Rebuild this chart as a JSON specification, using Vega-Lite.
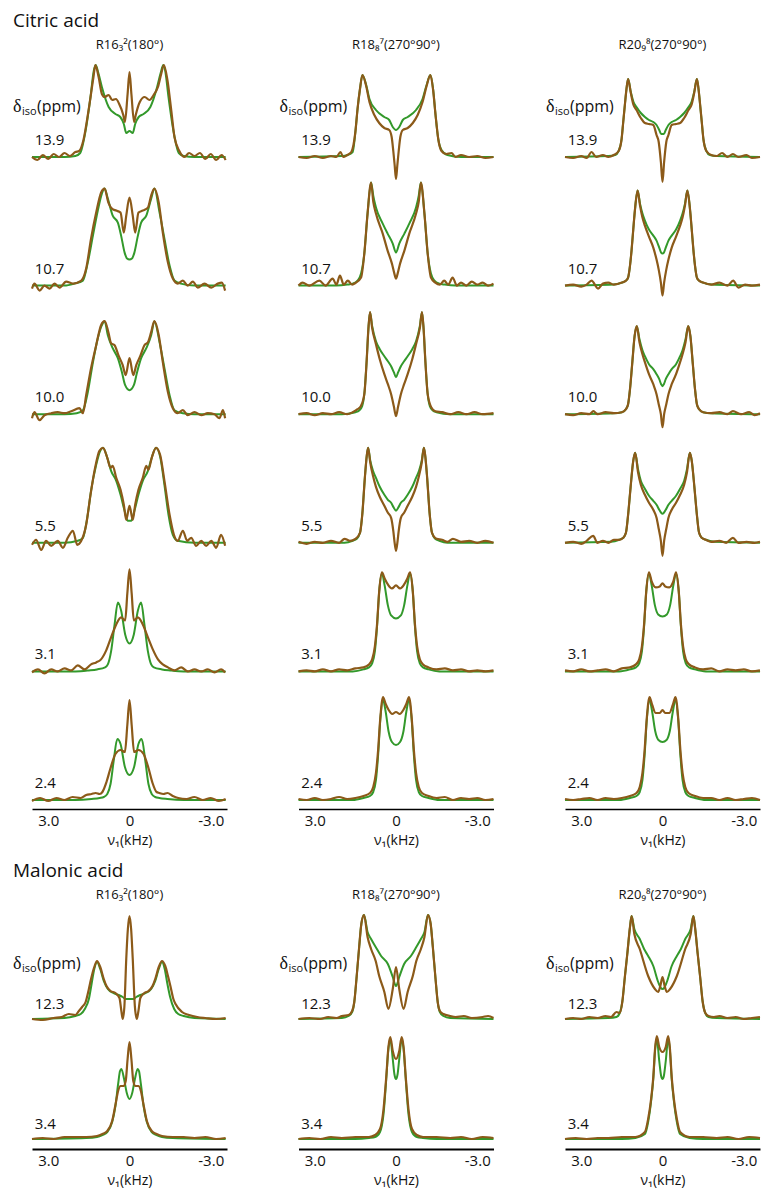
{
"$schema":"https://vega.github.io/schema/vega-lite/v6.json",
"background":"white",
"padding":{"left":13,"top":12,"right":0,"bottom":5},
"config":{"font":"Open Sans","view":{"stroke":null},"title":{"fontWeight":"normal","color":"#111"},"text":{"color":"#111","font":"Open Sans"}},
"datasets":{
"keys":[{"k":"a1g","c":"a","r":1,"s":"g"},{"k":"a1b","c":"a","r":1,"s":"b"},{"k":"a1l","c":"a","r":1,"s":"l"},{"k":"a2g","c":"a","r":2,"s":"g"},{"k":"a2b","c":"a","r":2,"s":"b"},{"k":"a2l","c":"a","r":2,"s":"l"},{"k":"a3g","c":"a","r":3,"s":"g"},{"k":"a3b","c":"a","r":3,"s":"b"},{"k":"a3l","c":"a","r":3,"s":"l"},{"k":"a4g","c":"a","r":4,"s":"g"},{"k":"a4b","c":"a","r":4,"s":"b"},{"k":"a4l","c":"a","r":4,"s":"l"},{"k":"a5g","c":"a","r":5,"s":"g"},{"k":"a5b","c":"a","r":5,"s":"b"},{"k":"a5l","c":"a","r":5,"s":"l"},{"k":"a6g","c":"a","r":6,"s":"g"},{"k":"a6b","c":"a","r":6,"s":"b"},{"k":"a6l","c":"a","r":6,"s":"l"},
{"k":"b1g","c":"b","r":1,"s":"g"},{"k":"b1b","c":"b","r":1,"s":"b"},{"k":"b1l","c":"b","r":1,"s":"l"},{"k":"b2g","c":"b","r":2,"s":"g"},{"k":"b2b","c":"b","r":2,"s":"b"},{"k":"b2l","c":"b","r":2,"s":"l"},{"k":"b3g","c":"b","r":3,"s":"g"},{"k":"b3b","c":"b","r":3,"s":"b"},{"k":"b3l","c":"b","r":3,"s":"l"},{"k":"b4g","c":"b","r":4,"s":"g"},{"k":"b4b","c":"b","r":4,"s":"b"},{"k":"b4l","c":"b","r":4,"s":"l"},{"k":"b5g","c":"b","r":5,"s":"g"},{"k":"b5b","c":"b","r":5,"s":"b"},{"k":"b5l","c":"b","r":5,"s":"l"},{"k":"b6g","c":"b","r":6,"s":"g"},{"k":"b6b","c":"b","r":6,"s":"b"},{"k":"b6l","c":"b","r":6,"s":"l"},
{"k":"c1g","c":"c","r":1,"s":"g"},{"k":"c1b","c":"c","r":1,"s":"b"},{"k":"c1l","c":"c","r":1,"s":"l"},{"k":"c2g","c":"c","r":2,"s":"g"},{"k":"c2b","c":"c","r":2,"s":"b"},{"k":"c2l","c":"c","r":2,"s":"l"},{"k":"c3g","c":"c","r":3,"s":"g"},{"k":"c3b","c":"c","r":3,"s":"b"},{"k":"c3l","c":"c","r":3,"s":"l"},{"k":"c4g","c":"c","r":4,"s":"g"},{"k":"c4b","c":"c","r":4,"s":"b"},{"k":"c4l","c":"c","r":4,"s":"l"},{"k":"c5g","c":"c","r":5,"s":"g"},{"k":"c5b","c":"c","r":5,"s":"b"},{"k":"c5l","c":"c","r":5,"s":"l"},{"k":"c6g","c":"c","r":6,"s":"g"},{"k":"c6b","c":"c","r":6,"s":"b"},{"k":"c6l","c":"c","r":6,"s":"l"}],
"cit":[
{"k":"a1l","lab":"13.9"},{"k":"a2l","lab":"10.7"},{"k":"a3l","lab":"10.0"},{"k":"a4l","lab":"5.5"},{"k":"a5l","lab":"3.1"},{"k":"a6l","lab":"2.4"},
{"k":"b1l","lab":"13.9"},{"k":"b2l","lab":"10.7"},{"k":"b3l","lab":"10.0"},{"k":"b4l","lab":"5.5"},{"k":"b5l","lab":"3.1"},{"k":"b6l","lab":"2.4"},
{"k":"c1l","lab":"13.9"},{"k":"c2l","lab":"10.7"},{"k":"c3l","lab":"10.0"},{"k":"c4l","lab":"5.5"},{"k":"c5l","lab":"3.1"},{"k":"c6l","lab":"2.4"},
{"k":"a1g","x":3.6,"y":0},{"k":"a1g","x":2.4,"y":0},{"k":"a1g","x":2,"y":0.01},{"k":"a1g","x":1.82,"y":0.04},{"k":"a1g","x":1.63,"y":0.25},{"k":"a1g","x":1.44,"y":0.6},{"k":"a1g","x":1.32,"y":0.86},{"k":"a1g","x":1.25,"y":0.92},{"k":"a1g","x":1.15,"y":0.84},{"k":"a1g","x":1.02,"y":0.7},{"k":"a1g","x":0.77,"y":0.5},{"k":"a1g","x":0.52,"y":0.43},{"k":"a1g","x":0.34,"y":0.4},{"k":"a1g","x":0.21,"y":0.33},{"k":"a1g","x":0.12,"y":0.24},{"k":"a1g","x":0,"y":0.26},{"k":"a1g","x":-0.12,"y":0.24},{"k":"a1g","x":-0.21,"y":0.33},{"k":"a1g","x":-0.34,"y":0.4},{"k":"a1g","x":-0.52,"y":0.43},{"k":"a1g","x":-0.77,"y":0.5},{"k":"a1g","x":-1.02,"y":0.7},{"k":"a1g","x":-1.15,"y":0.84},{"k":"a1g","x":-1.25,"y":0.92},{"k":"a1g","x":-1.32,"y":0.86},{"k":"a1g","x":-1.44,"y":0.6},{"k":"a1g","x":-1.63,"y":0.25},{"k":"a1g","x":-1.82,"y":0.04},{"k":"a1g","x":-2,"y":0.01},{"k":"a1g","x":-2.4,"y":0},{"k":"a1g","x":-3.55,"y":0},
{"k":"a1b","x":3.6,"y":0},{"k":"a1b","x":3.4,"y":-0.03},{"k":"a1b","x":3.2,"y":0.02},{"k":"a1b","x":3,"y":-0.02},{"k":"a1b","x":2.8,"y":0.03},{"k":"a1b","x":2.6,"y":0},{"k":"a1b","x":2.4,"y":0.04},{"k":"a1b","x":2.2,"y":0.01},{"k":"a1b","x":2,"y":0.05},{"k":"a1b","x":1.86,"y":0.06},{"k":"a1b","x":1.7,"y":0.17},{"k":"a1b","x":1.51,"y":0.47},{"k":"a1b","x":1.33,"y":0.8},{"k":"a1b","x":1.26,"y":0.92},{"k":"a1b","x":1.14,"y":0.8},{"k":"a1b","x":1.02,"y":0.63},{"k":"a1b","x":0.92,"y":0.6},{"k":"a1b","x":0.77,"y":0.62},{"k":"a1b","x":0.64,"y":0.57},{"k":"a1b","x":0.5,"y":0.58},{"k":"a1b","x":0.38,"y":0.53},{"k":"a1b","x":0.23,"y":0.42},{"k":"a1b","x":0.17,"y":0.35},{"k":"a1b","x":0.07,"y":0.63},{"k":"a1b","x":0,"y":0.85},{"k":"a1b","x":-0.07,"y":0.63},{"k":"a1b","x":-0.17,"y":0.35},{"k":"a1b","x":-0.23,"y":0.42},{"k":"a1b","x":-0.38,"y":0.55},{"k":"a1b","x":-0.56,"y":0.6},{"k":"a1b","x":-0.74,"y":0.57},{"k":"a1b","x":-0.89,"y":0.62},{"k":"a1b","x":-1.05,"y":0.7},{"k":"a1b","x":-1.17,"y":0.83},{"k":"a1b","x":-1.27,"y":0.92},{"k":"a1b","x":-1.4,"y":0.77},{"k":"a1b","x":-1.54,"y":0.47},{"k":"a1b","x":-1.66,"y":0.2},{"k":"a1b","x":-1.84,"y":0.06},{"k":"a1b","x":-2.03,"y":0},{"k":"a1b","x":-2.2,"y":0.04},{"k":"a1b","x":-2.4,"y":0.01},{"k":"a1b","x":-2.6,"y":0.04},{"k":"a1b","x":-2.8,"y":-0.02},{"k":"a1b","x":-3,"y":0.03},{"k":"a1b","x":-3.2,"y":-0.03},{"k":"a1b","x":-3.4,"y":0.02},{"k":"a1b","x":-3.55,"y":-0.03},
{"k":"a2g","x":3.6,"y":0},{"k":"a2g","x":2.4,"y":0},{"k":"a2g","x":2.03,"y":0.02},{"k":"a2g","x":1.72,"y":0.05},{"k":"a2g","x":1.54,"y":0.23},{"k":"a2g","x":1.35,"y":0.5},{"k":"a2g","x":1.17,"y":0.75},{"k":"a2g","x":1.02,"y":0.92},{"k":"a2g","x":0.92,"y":0.97},{"k":"a2g","x":0.8,"y":0.87},{"k":"a2g","x":0.62,"y":0.7},{"k":"a2g","x":0.43,"y":0.63},{"k":"a2g","x":0.31,"y":0.5},{"k":"a2g","x":0.18,"y":0.33},{"k":"a2g","x":0.09,"y":0.27},{"k":"a2g","x":0,"y":0.26},{"k":"a2g","x":-0.09,"y":0.27},{"k":"a2g","x":-0.18,"y":0.33},{"k":"a2g","x":-0.31,"y":0.5},{"k":"a2g","x":-0.43,"y":0.63},{"k":"a2g","x":-0.62,"y":0.7},{"k":"a2g","x":-0.8,"y":0.87},{"k":"a2g","x":-0.92,"y":0.97},{"k":"a2g","x":-1.11,"y":0.73},{"k":"a2g","x":-1.29,"y":0.47},{"k":"a2g","x":-1.48,"y":0.2},{"k":"a2g","x":-1.66,"y":0.05},{"k":"a2g","x":-1.9,"y":0.02},{"k":"a2g","x":-2.4,"y":0},{"k":"a2g","x":-3.55,"y":0},
{"k":"a2b","x":3.6,"y":-0.03},{"k":"a2b","x":3.51,"y":0.02},{"k":"a2b","x":3.32,"y":-0.05},{"k":"a2b","x":3.14,"y":0},{"k":"a2b","x":2.95,"y":-0.03},{"k":"a2b","x":2.77,"y":0.02},{"k":"a2b","x":2.58,"y":-0.02},{"k":"a2b","x":2.34,"y":0.04},{"k":"a2b","x":2.09,"y":0.02},{"k":"a2b","x":1.78,"y":0.05},{"k":"a2b","x":1.6,"y":0.17},{"k":"a2b","x":1.42,"y":0.47},{"k":"a2b","x":1.23,"y":0.73},{"k":"a2b","x":1.05,"y":0.93},{"k":"a2b","x":0.92,"y":0.97},{"k":"a2b","x":0.78,"y":0.83},{"k":"a2b","x":0.65,"y":0.77},{"k":"a2b","x":0.49,"y":0.75},{"k":"a2b","x":0.33,"y":0.73},{"k":"a2b","x":0.21,"y":0.53},{"k":"a2b","x":0.12,"y":0.7},{"k":"a2b","x":0,"y":0.88},{"k":"a2b","x":-0.12,"y":0.7},{"k":"a2b","x":-0.21,"y":0.53},{"k":"a2b","x":-0.33,"y":0.73},{"k":"a2b","x":-0.49,"y":0.75},{"k":"a2b","x":-0.68,"y":0.78},{"k":"a2b","x":-0.8,"y":0.9},{"k":"a2b","x":-0.92,"y":0.97},{"k":"a2b","x":-1.08,"y":0.83},{"k":"a2b","x":-1.23,"y":0.53},{"k":"a2b","x":-1.42,"y":0.23},{"k":"a2b","x":-1.6,"y":0.07},{"k":"a2b","x":-1.78,"y":0.02},{"k":"a2b","x":-1.97,"y":0.05},{"k":"a2b","x":-2.15,"y":0},{"k":"a2b","x":-2.34,"y":0.04},{"k":"a2b","x":-2.52,"y":-0.02},{"k":"a2b","x":-2.77,"y":0.02},{"k":"a2b","x":-3.02,"y":-0.02},{"k":"a2b","x":-3.26,"y":0.02},{"k":"a2b","x":-3.41,"y":0.03},{"k":"a2b","x":-3.53,"y":-0.05},
{"k":"a3g","x":3.6,"y":0},{"k":"a3g","x":2.4,"y":0},{"k":"a3g","x":1.95,"y":0.01},{"k":"a3g","x":1.72,"y":0.04},{"k":"a3g","x":1.54,"y":0.22},{"k":"a3g","x":1.35,"y":0.52},{"k":"a3g","x":1.17,"y":0.76},{"k":"a3g","x":1.02,"y":0.89},{"k":"a3g","x":0.92,"y":0.93},{"k":"a3g","x":0.8,"y":0.79},{"k":"a3g","x":0.62,"y":0.66},{"k":"a3g","x":0.43,"y":0.56},{"k":"a3g","x":0.28,"y":0.42},{"k":"a3g","x":0.16,"y":0.29},{"k":"a3g","x":0,"y":0.24},{"k":"a3g","x":-0.16,"y":0.29},{"k":"a3g","x":-0.28,"y":0.42},{"k":"a3g","x":-0.43,"y":0.56},{"k":"a3g","x":-0.62,"y":0.66},{"k":"a3g","x":-0.8,"y":0.79},{"k":"a3g","x":-0.92,"y":0.93},{"k":"a3g","x":-1.11,"y":0.72},{"k":"a3g","x":-1.29,"y":0.46},{"k":"a3g","x":-1.48,"y":0.19},{"k":"a3g","x":-1.66,"y":0.04},{"k":"a3g","x":-1.97,"y":0.01},{"k":"a3g","x":-2.4,"y":0},{"k":"a3g","x":-3.55,"y":0},
{"k":"a3b","x":3.6,"y":-0.04},{"k":"a3b","x":3.51,"y":0.02},{"k":"a3b","x":3.32,"y":-0.06},{"k":"a3b","x":3.14,"y":-0.01},{"k":"a3b","x":2.89,"y":0.01},{"k":"a3b","x":2.65,"y":0.02},{"k":"a3b","x":2.4,"y":0.01},{"k":"a3b","x":2.15,"y":0.03},{"k":"a3b","x":1.85,"y":0.06},{"k":"a3b","x":1.72,"y":0.01},{"k":"a3b","x":1.6,"y":0.19},{"k":"a3b","x":1.42,"y":0.46},{"k":"a3b","x":1.23,"y":0.69},{"k":"a3b","x":1.05,"y":0.89},{"k":"a3b","x":0.92,"y":0.93},{"k":"a3b","x":0.78,"y":0.82},{"k":"a3b","x":0.68,"y":0.71},{"k":"a3b","x":0.55,"y":0.69},{"k":"a3b","x":0.41,"y":0.59},{"k":"a3b","x":0.25,"y":0.49},{"k":"a3b","x":0.14,"y":0.39},{"k":"a3b","x":0,"y":0.56},{"k":"a3b","x":-0.14,"y":0.39},{"k":"a3b","x":-0.25,"y":0.49},{"k":"a3b","x":-0.41,"y":0.59},{"k":"a3b","x":-0.55,"y":0.69},{"k":"a3b","x":-0.68,"y":0.72},{"k":"a3b","x":-0.8,"y":0.82},{"k":"a3b","x":-0.92,"y":0.93},{"k":"a3b","x":-1.08,"y":0.79},{"k":"a3b","x":-1.23,"y":0.52},{"k":"a3b","x":-1.42,"y":0.22},{"k":"a3b","x":-1.6,"y":0.06},{"k":"a3b","x":-1.78,"y":0.01},{"k":"a3b","x":-1.97,"y":0.04},{"k":"a3b","x":-2.15,"y":-0.01},{"k":"a3b","x":-2.4,"y":0.02},{"k":"a3b","x":-2.65,"y":-0.01},{"k":"a3b","x":-2.89,"y":0.01},{"k":"a3b","x":-3.14,"y":0},{"k":"a3b","x":-3.32,"y":-0.04},{"k":"a3b","x":-3.45,"y":0.04},{"k":"a3b","x":-3.53,"y":-0.04},
{"k":"a4g","x":3.6,"y":0},{"k":"a4g","x":2.4,"y":0},{"k":"a4g","x":1.91,"y":0.02},{"k":"a4g","x":1.72,"y":0.05},{"k":"a4g","x":1.56,"y":0.25},{"k":"a4g","x":1.42,"y":0.52},{"k":"a4g","x":1.23,"y":0.78},{"k":"a4g","x":1.08,"y":0.92},{"k":"a4g","x":0.98,"y":0.95},{"k":"a4g","x":0.82,"y":0.85},{"k":"a4g","x":0.68,"y":0.72},{"k":"a4g","x":0.49,"y":0.62},{"k":"a4g","x":0.33,"y":0.48},{"k":"a4g","x":0.18,"y":0.32},{"k":"a4g","x":0.06,"y":0.22},{"k":"a4g","x":0,"y":0.22},{"k":"a4g","x":-0.06,"y":0.22},{"k":"a4g","x":-0.18,"y":0.32},{"k":"a4g","x":-0.33,"y":0.48},{"k":"a4g","x":-0.49,"y":0.62},{"k":"a4g","x":-0.68,"y":0.72},{"k":"a4g","x":-0.82,"y":0.85},{"k":"a4g","x":-0.98,"y":0.95},{"k":"a4g","x":-1.14,"y":0.85},{"k":"a4g","x":-1.29,"y":0.58},{"k":"a4g","x":-1.44,"y":0.28},{"k":"a4g","x":-1.6,"y":0.08},{"k":"a4g","x":-1.78,"y":0.02},{"k":"a4g","x":-2.4,"y":0},{"k":"a4g","x":-3.55,"y":0},
{"k":"a4b","x":3.6,"y":-0.02},{"k":"a4b","x":3.45,"y":0.03},{"k":"a4b","x":3.26,"y":-0.07},{"k":"a4b","x":3.08,"y":0.02},{"k":"a4b","x":2.89,"y":-0.03},{"k":"a4b","x":2.65,"y":0.02},{"k":"a4b","x":2.46,"y":-0.05},{"k":"a4b","x":2.28,"y":0.05},{"k":"a4b","x":2.09,"y":0.12},{"k":"a4b","x":1.93,"y":-0.02},{"k":"a4b","x":1.78,"y":0.02},{"k":"a4b","x":1.6,"y":0.18},{"k":"a4b","x":1.44,"y":0.48},{"k":"a4b","x":1.27,"y":0.75},{"k":"a4b","x":1.11,"y":0.92},{"k":"a4b","x":0.98,"y":0.95},{"k":"a4b","x":0.82,"y":0.85},{"k":"a4b","x":0.7,"y":0.75},{"k":"a4b","x":0.62,"y":0.77},{"k":"a4b","x":0.49,"y":0.65},{"k":"a4b","x":0.33,"y":0.53},{"k":"a4b","x":0.21,"y":0.38},{"k":"a4b","x":0.12,"y":0.23},{"k":"a4b","x":0,"y":0.37},{"k":"a4b","x":-0.12,"y":0.23},{"k":"a4b","x":-0.21,"y":0.38},{"k":"a4b","x":-0.33,"y":0.53},{"k":"a4b","x":-0.49,"y":0.65},{"k":"a4b","x":-0.62,"y":0.77},{"k":"a4b","x":-0.7,"y":0.73},{"k":"a4b","x":-0.82,"y":0.85},{"k":"a4b","x":-0.98,"y":0.95},{"k":"a4b","x":-1.13,"y":0.88},{"k":"a4b","x":-1.29,"y":0.62},{"k":"a4b","x":-1.48,"y":0.28},{"k":"a4b","x":-1.64,"y":0.08},{"k":"a4b","x":-1.78,"y":0.02},{"k":"a4b","x":-1.97,"y":0.12},{"k":"a4b","x":-2.13,"y":0.02},{"k":"a4b","x":-2.28,"y":0.05},{"k":"a4b","x":-2.46,"y":-0.03},{"k":"a4b","x":-2.65,"y":0.02},{"k":"a4b","x":-2.83,"y":-0.03},{"k":"a4b","x":-3.02,"y":0.02},{"k":"a4b","x":-3.2,"y":-0.05},{"k":"a4b","x":-3.38,"y":0.08},{"k":"a4b","x":-3.53,"y":-0.03},
{"k":"a5g","x":3.6,"y":0},{"k":"a5g","x":2,"y":0},{"k":"a5g","x":1.5,"y":0.01},{"k":"a5g","x":1.2,"y":0.02},{"k":"a5g","x":0.9,"y":0.04},{"k":"a5g","x":0.8,"y":0.07},{"k":"a5g","x":0.68,"y":0.2},{"k":"a5g","x":0.55,"y":0.47},{"k":"a5g","x":0.43,"y":0.69},{"k":"a5g","x":0.31,"y":0.61},{"k":"a5g","x":0.16,"y":0.37},{"k":"a5g","x":0,"y":0.28},{"k":"a5g","x":-0.16,"y":0.37},{"k":"a5g","x":-0.31,"y":0.61},{"k":"a5g","x":-0.43,"y":0.69},{"k":"a5g","x":-0.55,"y":0.47},{"k":"a5g","x":-0.68,"y":0.2},{"k":"a5g","x":-0.8,"y":0.07},{"k":"a5g","x":-0.9,"y":0.04},{"k":"a5g","x":-1.2,"y":0.02},{"k":"a5g","x":-1.5,"y":0.01},{"k":"a5g","x":-2,"y":0},{"k":"a5g","x":-3.55,"y":0},
{"k":"a5b","x":3.6,"y":-0.01},{"k":"a5b","x":3.38,"y":0.02},{"k":"a5b","x":3.14,"y":-0.02},{"k":"a5b","x":2.89,"y":0.02},{"k":"a5b","x":2.65,"y":0},{"k":"a5b","x":2.4,"y":0.03},{"k":"a5b","x":2.15,"y":0.01},{"k":"a5b","x":1.91,"y":0.06},{"k":"a5b","x":1.66,"y":0.02},{"k":"a5b","x":1.42,"y":0.07},{"k":"a5b","x":1.23,"y":0.09},{"k":"a5b","x":1.05,"y":0.12},{"k":"a5b","x":0.86,"y":0.21},{"k":"a5b","x":0.68,"y":0.34},{"k":"a5b","x":0.49,"y":0.47},{"k":"a5b","x":0.31,"y":0.54},{"k":"a5b","x":0.16,"y":0.51},{"k":"a5b","x":0.08,"y":0.78},{"k":"a5b","x":0,"y":1.02},{"k":"a5b","x":-0.08,"y":0.78},{"k":"a5b","x":-0.16,"y":0.51},{"k":"a5b","x":-0.31,"y":0.54},{"k":"a5b","x":-0.49,"y":0.47},{"k":"a5b","x":-0.68,"y":0.34},{"k":"a5b","x":-0.86,"y":0.22},{"k":"a5b","x":-1.05,"y":0.12},{"k":"a5b","x":-1.23,"y":0.07},{"k":"a5b","x":-1.42,"y":0.04},{"k":"a5b","x":-1.66,"y":0.01},{"k":"a5b","x":-1.91,"y":0.04},{"k":"a5b","x":-2.15,"y":0},{"k":"a5b","x":-2.4,"y":0.02},{"k":"a5b","x":-2.65,"y":0},{"k":"a5b","x":-2.89,"y":0.02},{"k":"a5b","x":-3.14,"y":-0.01},{"k":"a5b","x":-3.38,"y":0.02},{"k":"a5b","x":-3.53,"y":-0.01},
{"k":"a6g","x":3.6,"y":0},{"k":"a6g","x":2,"y":0},{"k":"a6g","x":1.4,"y":0.01},{"k":"a6g","x":1.1,"y":0.02},{"k":"a6g","x":0.95,"y":0.03},{"k":"a6g","x":0.82,"y":0.06},{"k":"a6g","x":0.7,"y":0.16},{"k":"a6g","x":0.58,"y":0.4},{"k":"a6g","x":0.45,"y":0.61},{"k":"a6g","x":0.33,"y":0.56},{"k":"a6g","x":0.17,"y":0.33},{"k":"a6g","x":0,"y":0.25},{"k":"a6g","x":-0.17,"y":0.33},{"k":"a6g","x":-0.33,"y":0.56},{"k":"a6g","x":-0.45,"y":0.61},{"k":"a6g","x":-0.58,"y":0.4},{"k":"a6g","x":-0.7,"y":0.16},{"k":"a6g","x":-0.82,"y":0.06},{"k":"a6g","x":-0.95,"y":0.03},{"k":"a6g","x":-1.1,"y":0.02},{"k":"a6g","x":-1.4,"y":0.01},{"k":"a6g","x":-2,"y":0},{"k":"a6g","x":-3.55,"y":0},
{"k":"a6b","x":3.6,"y":-0.01},{"k":"a6b","x":3.3,"y":0.02},{"k":"a6b","x":3,"y":-0.01},{"k":"a6b","x":2.7,"y":0.02},{"k":"a6b","x":2.4,"y":0},{"k":"a6b","x":2.1,"y":0.03},{"k":"a6b","x":1.8,"y":0.02},{"k":"a6b","x":1.6,"y":0.05},{"k":"a6b","x":1.4,"y":0.06},{"k":"a6b","x":1.25,"y":0.07},{"k":"a6b","x":1.1,"y":0.06},{"k":"a6b","x":1,"y":0.08},{"k":"a6b","x":0.85,"y":0.18},{"k":"a6b","x":0.7,"y":0.32},{"k":"a6b","x":0.52,"y":0.46},{"k":"a6b","x":0.33,"y":0.5},{"k":"a6b","x":0.17,"y":0.48},{"k":"a6b","x":0.08,"y":0.75},{"k":"a6b","x":0,"y":1},{"k":"a6b","x":-0.08,"y":0.75},{"k":"a6b","x":-0.17,"y":0.48},{"k":"a6b","x":-0.33,"y":0.5},{"k":"a6b","x":-0.52,"y":0.46},{"k":"a6b","x":-0.7,"y":0.32},{"k":"a6b","x":-0.85,"y":0.17},{"k":"a6b","x":-1,"y":0.08},{"k":"a6b","x":-1.1,"y":0.07},{"k":"a6b","x":-1.25,"y":0.06},{"k":"a6b","x":-1.4,"y":0.07},{"k":"a6b","x":-1.6,"y":0.04},{"k":"a6b","x":-1.8,"y":0.02},{"k":"a6b","x":-2.1,"y":0.01},{"k":"a6b","x":-2.4,"y":0.03},{"k":"a6b","x":-2.7,"y":0},{"k":"a6b","x":-3,"y":0.02},{"k":"a6b","x":-3.3,"y":-0.01},{"k":"a6b","x":-3.55,"y":0.01},
{"k":"b1g","x":3.6,"y":0},{"k":"b1g","x":2,"y":0.01},{"k":"b1g","x":1.78,"y":0.02},{"k":"b1g","x":1.6,"y":0.05},{"k":"b1g","x":1.5,"y":0.25},{"k":"b1g","x":1.42,"y":0.48},{"k":"b1g","x":1.33,"y":0.68},{"k":"b1g","x":1.24,"y":0.82},{"k":"b1g","x":1.11,"y":0.73},{"k":"b1g","x":0.98,"y":0.58},{"k":"b1g","x":0.74,"y":0.47},{"k":"b1g","x":0.43,"y":0.4},{"k":"b1g","x":0.25,"y":0.37},{"k":"b1g","x":0.12,"y":0.3},{"k":"b1g","x":0,"y":0.27},{"k":"b1g","x":-0.12,"y":0.3},{"k":"b1g","x":-0.25,"y":0.37},{"k":"b1g","x":-0.43,"y":0.4},{"k":"b1g","x":-0.74,"y":0.47},{"k":"b1g","x":-0.98,"y":0.58},{"k":"b1g","x":-1.13,"y":0.72},{"k":"b1g","x":-1.27,"y":0.82},{"k":"b1g","x":-1.37,"y":0.68},{"k":"b1g","x":-1.46,"y":0.42},{"k":"b1g","x":-1.56,"y":0.18},{"k":"b1g","x":-1.68,"y":0.07},{"k":"b1g","x":-1.9,"y":0.02},{"k":"b1g","x":-2.4,"y":0},{"k":"b1g","x":-3.6,"y":0},
{"k":"b1b","x":3.6,"y":0},{"k":"b1b","x":3.3,"y":-0.01},{"k":"b1b","x":3,"y":0.01},{"k":"b1b","x":2.7,"y":-0.01},{"k":"b1b","x":2.4,"y":0.01},{"k":"b1b","x":2.2,"y":0},{"k":"b1b","x":2.05,"y":0.05},{"k":"b1b","x":1.95,"y":0},{"k":"b1b","x":1.8,"y":0.02},{"k":"b1b","x":1.65,"y":0.05},{"k":"b1b","x":1.5,"y":0.25},{"k":"b1b","x":1.42,"y":0.48},{"k":"b1b","x":1.33,"y":0.68},{"k":"b1b","x":1.24,"y":0.82},{"k":"b1b","x":1.11,"y":0.72},{"k":"b1b","x":0.98,"y":0.55},{"k":"b1b","x":0.8,"y":0.42},{"k":"b1b","x":0.62,"y":0.34},{"k":"b1b","x":0.43,"y":0.29},{"k":"b1b","x":0.25,"y":0.27},{"k":"b1b","x":0.16,"y":0.2},{"k":"b1b","x":0.1,"y":0.06},{"k":"b1b","x":0.05,"y":-0.08},{"k":"b1b","x":0,"y":-0.22},{"k":"b1b","x":-0.05,"y":-0.08},{"k":"b1b","x":-0.1,"y":0.06},{"k":"b1b","x":-0.16,"y":0.2},{"k":"b1b","x":-0.25,"y":0.27},{"k":"b1b","x":-0.43,"y":0.29},{"k":"b1b","x":-0.62,"y":0.34},{"k":"b1b","x":-0.8,"y":0.42},{"k":"b1b","x":-0.98,"y":0.55},{"k":"b1b","x":-1.13,"y":0.71},{"k":"b1b","x":-1.27,"y":0.82},{"k":"b1b","x":-1.37,"y":0.67},{"k":"b1b","x":-1.46,"y":0.42},{"k":"b1b","x":-1.56,"y":0.18},{"k":"b1b","x":-1.68,"y":0.06},{"k":"b1b","x":-1.85,"y":0.03},{"k":"b1b","x":-2.05,"y":0.04},{"k":"b1b","x":-2.2,"y":0},{"k":"b1b","x":-2.4,"y":0.02},{"k":"b1b","x":-2.7,"y":0},{"k":"b1b","x":-3,"y":0.01},{"k":"b1b","x":-3.3,"y":-0.01},{"k":"b1b","x":-3.6,"y":0},
{"k":"b2g","x":3.6,"y":0},{"k":"b2g","x":2.2,"y":0},{"k":"b2g","x":1.8,"y":0.01},{"k":"b2g","x":1.6,"y":0.02},{"k":"b2g","x":1.42,"y":0.05},{"k":"b2g","x":1.29,"y":0.12},{"k":"b2g","x":1.17,"y":0.32},{"k":"b2g","x":1.05,"y":0.72},{"k":"b2g","x":0.92,"y":1.03},{"k":"b2g","x":0.84,"y":0.9},{"k":"b2g","x":0.74,"y":0.78},{"k":"b2g","x":0.49,"y":0.62},{"k":"b2g","x":0.31,"y":0.52},{"k":"b2g","x":0.12,"y":0.42},{"k":"b2g","x":0,"y":0.33},{"k":"b2g","x":-0.12,"y":0.42},{"k":"b2g","x":-0.31,"y":0.52},{"k":"b2g","x":-0.49,"y":0.62},{"k":"b2g","x":-0.74,"y":0.78},{"k":"b2g","x":-0.84,"y":0.9},{"k":"b2g","x":-0.92,"y":1.03},{"k":"b2g","x":-1.05,"y":0.72},{"k":"b2g","x":-1.17,"y":0.32},{"k":"b2g","x":-1.29,"y":0.12},{"k":"b2g","x":-1.42,"y":0.05},{"k":"b2g","x":-1.6,"y":0.02},{"k":"b2g","x":-1.8,"y":0.01},{"k":"b2g","x":-2.2,"y":0},{"k":"b2g","x":-3.6,"y":0},
{"k":"b2b","x":3.6,"y":0},{"k":"b2b","x":3.45,"y":0.03},{"k":"b2b","x":3.2,"y":0},{"k":"b2b","x":2.83,"y":0.05},{"k":"b2b","x":2.6,"y":0},{"k":"b2b","x":2.34,"y":0.07},{"k":"b2b","x":2.2,"y":0.01},{"k":"b2b","x":2.07,"y":0.1},{"k":"b2b","x":1.93,"y":0.01},{"k":"b2b","x":1.78,"y":0.05},{"k":"b2b","x":1.62,"y":0.01},{"k":"b2b","x":1.48,"y":0.03},{"k":"b2b","x":1.29,"y":0.08},{"k":"b2b","x":1.17,"y":0.32},{"k":"b2b","x":1.05,"y":0.72},{"k":"b2b","x":0.92,"y":1.03},{"k":"b2b","x":0.84,"y":0.84},{"k":"b2b","x":0.74,"y":0.72},{"k":"b2b","x":0.49,"y":0.52},{"k":"b2b","x":0.31,"y":0.35},{"k":"b2b","x":0.15,"y":0.22},{"k":"b2b","x":0.06,"y":0.12},{"k":"b2b","x":0,"y":0.07},{"k":"b2b","x":-0.06,"y":0.12},{"k":"b2b","x":-0.15,"y":0.22},{"k":"b2b","x":-0.31,"y":0.35},{"k":"b2b","x":-0.49,"y":0.52},{"k":"b2b","x":-0.74,"y":0.72},{"k":"b2b","x":-0.84,"y":0.84},{"k":"b2b","x":-0.92,"y":1.03},{"k":"b2b","x":-1.05,"y":0.72},{"k":"b2b","x":-1.17,"y":0.32},{"k":"b2b","x":-1.29,"y":0.08},{"k":"b2b","x":-1.45,"y":0.03},{"k":"b2b","x":-1.62,"y":0.01},{"k":"b2b","x":-1.78,"y":0.05},{"k":"b2b","x":-1.93,"y":0.01},{"k":"b2b","x":-2.09,"y":0.08},{"k":"b2b","x":-2.25,"y":0},{"k":"b2b","x":-2.4,"y":0.03},{"k":"b2b","x":-2.6,"y":0},{"k":"b2b","x":-2.8,"y":0.04},{"k":"b2b","x":-3,"y":0.01},{"k":"b2b","x":-3.2,"y":0.03},{"k":"b2b","x":-3.4,"y":0},{"k":"b2b","x":-3.6,"y":0.02},
{"k":"b3g","x":3.6,"y":0},{"k":"b3g","x":2,"y":0},{"k":"b3g","x":1.5,"y":0.02},{"k":"b3g","x":1.35,"y":0.04},{"k":"b3g","x":1.25,"y":0.08},{"k":"b3g","x":1.17,"y":0.2},{"k":"b3g","x":1.08,"y":0.55},{"k":"b3g","x":1.02,"y":0.85},{"k":"b3g","x":0.96,"y":1.02},{"k":"b3g","x":0.88,"y":0.88},{"k":"b3g","x":0.74,"y":0.73},{"k":"b3g","x":0.6,"y":0.65},{"k":"b3g","x":0.43,"y":0.58},{"k":"b3g","x":0.3,"y":0.53},{"k":"b3g","x":0.18,"y":0.48},{"k":"b3g","x":0.08,"y":0.42},{"k":"b3g","x":0,"y":0.37},{"k":"b3g","x":-0.08,"y":0.42},{"k":"b3g","x":-0.18,"y":0.48},{"k":"b3g","x":-0.3,"y":0.53},{"k":"b3g","x":-0.43,"y":0.58},{"k":"b3g","x":-0.6,"y":0.65},{"k":"b3g","x":-0.74,"y":0.73},{"k":"b3g","x":-0.88,"y":0.88},{"k":"b3g","x":-0.96,"y":1.02},{"k":"b3g","x":-1.02,"y":0.85},{"k":"b3g","x":-1.08,"y":0.55},{"k":"b3g","x":-1.17,"y":0.2},{"k":"b3g","x":-1.25,"y":0.08},{"k":"b3g","x":-1.35,"y":0.04},{"k":"b3g","x":-1.5,"y":0.02},{"k":"b3g","x":-2,"y":0},{"k":"b3g","x":-3.6,"y":0},
{"k":"b3b","x":3.6,"y":0},{"k":"b3b","x":3.3,"y":0.01},{"k":"b3b","x":3,"y":-0.01},{"k":"b3b","x":2.7,"y":0.01},{"k":"b3b","x":2.4,"y":0},{"k":"b3b","x":2.1,"y":0.02},{"k":"b3b","x":1.8,"y":0},{"k":"b3b","x":1.6,"y":0.02},{"k":"b3b","x":1.42,"y":0.05},{"k":"b3b","x":1.3,"y":0.08},{"k":"b3b","x":1.17,"y":0.2},{"k":"b3b","x":1.08,"y":0.55},{"k":"b3b","x":1.02,"y":0.85},{"k":"b3b","x":0.96,"y":1.02},{"k":"b3b","x":0.88,"y":0.86},{"k":"b3b","x":0.74,"y":0.7},{"k":"b3b","x":0.6,"y":0.55},{"k":"b3b","x":0.43,"y":0.4},{"k":"b3b","x":0.3,"y":0.3},{"k":"b3b","x":0.18,"y":0.2},{"k":"b3b","x":0.08,"y":0.08},{"k":"b3b","x":0,"y":-0.02},{"k":"b3b","x":-0.08,"y":0.08},{"k":"b3b","x":-0.18,"y":0.2},{"k":"b3b","x":-0.3,"y":0.3},{"k":"b3b","x":-0.43,"y":0.4},{"k":"b3b","x":-0.6,"y":0.55},{"k":"b3b","x":-0.74,"y":0.7},{"k":"b3b","x":-0.88,"y":0.86},{"k":"b3b","x":-0.96,"y":1.02},{"k":"b3b","x":-1.02,"y":0.85},{"k":"b3b","x":-1.08,"y":0.55},{"k":"b3b","x":-1.17,"y":0.2},{"k":"b3b","x":-1.3,"y":0.07},{"k":"b3b","x":-1.45,"y":0.03},{"k":"b3b","x":-1.7,"y":0.02},{"k":"b3b","x":-2,"y":0},{"k":"b3b","x":-2.3,"y":0.02},{"k":"b3b","x":-2.6,"y":0},{"k":"b3b","x":-2.9,"y":0.02},{"k":"b3b","x":-3.2,"y":0},{"k":"b3b","x":-3.6,"y":0.01},
{"k":"b4g","x":3.6,"y":0},{"k":"b4g","x":1.9,"y":0},{"k":"b4g","x":1.6,"y":0.02},{"k":"b4g","x":1.45,"y":0.04},{"k":"b4g","x":1.33,"y":0.1},{"k":"b4g","x":1.24,"y":0.3},{"k":"b4g","x":1.15,"y":0.65},{"k":"b4g","x":1.08,"y":0.87},{"k":"b4g","x":1.03,"y":0.95},{"k":"b4g","x":0.95,"y":0.82},{"k":"b4g","x":0.85,"y":0.72},{"k":"b4g","x":0.74,"y":0.65},{"k":"b4g","x":0.6,"y":0.56},{"k":"b4g","x":0.43,"y":0.48},{"k":"b4g","x":0.3,"y":0.43},{"k":"b4g","x":0.18,"y":0.4},{"k":"b4g","x":0.08,"y":0.35},{"k":"b4g","x":0,"y":0.32},{"k":"b4g","x":-0.08,"y":0.35},{"k":"b4g","x":-0.18,"y":0.4},{"k":"b4g","x":-0.3,"y":0.43},{"k":"b4g","x":-0.43,"y":0.48},{"k":"b4g","x":-0.6,"y":0.56},{"k":"b4g","x":-0.74,"y":0.65},{"k":"b4g","x":-0.85,"y":0.72},{"k":"b4g","x":-0.95,"y":0.82},{"k":"b4g","x":-1.03,"y":0.95},{"k":"b4g","x":-1.08,"y":0.87},{"k":"b4g","x":-1.15,"y":0.65},{"k":"b4g","x":-1.24,"y":0.3},{"k":"b4g","x":-1.33,"y":0.1},{"k":"b4g","x":-1.45,"y":0.04},{"k":"b4g","x":-1.6,"y":0.02},{"k":"b4g","x":-1.9,"y":0},{"k":"b4g","x":-3.6,"y":0},
{"k":"b4b","x":3.6,"y":0.01},{"k":"b4b","x":3.3,"y":-0.01},{"k":"b4b","x":3,"y":0.01},{"k":"b4b","x":2.7,"y":0},{"k":"b4b","x":2.4,"y":0.02},{"k":"b4b","x":2.1,"y":0},{"k":"b4b","x":1.9,"y":0.04},{"k":"b4b","x":1.7,"y":0.02},{"k":"b4b","x":1.5,"y":0.04},{"k":"b4b","x":1.33,"y":0.1},{"k":"b4b","x":1.24,"y":0.3},{"k":"b4b","x":1.15,"y":0.65},{"k":"b4b","x":1.08,"y":0.87},{"k":"b4b","x":1.03,"y":0.95},{"k":"b4b","x":0.95,"y":0.8},{"k":"b4b","x":0.85,"y":0.67},{"k":"b4b","x":0.74,"y":0.56},{"k":"b4b","x":0.6,"y":0.46},{"k":"b4b","x":0.43,"y":0.37},{"k":"b4b","x":0.3,"y":0.3},{"k":"b4b","x":0.18,"y":0.25},{"k":"b4b","x":0.1,"y":0.12},{"k":"b4b","x":0.05,"y":0},{"k":"b4b","x":0,"y":-0.08},{"k":"b4b","x":-0.05,"y":0},{"k":"b4b","x":-0.1,"y":0.12},{"k":"b4b","x":-0.18,"y":0.25},{"k":"b4b","x":-0.3,"y":0.3},{"k":"b4b","x":-0.43,"y":0.37},{"k":"b4b","x":-0.6,"y":0.46},{"k":"b4b","x":-0.74,"y":0.56},{"k":"b4b","x":-0.85,"y":0.67},{"k":"b4b","x":-0.95,"y":0.8},{"k":"b4b","x":-1.03,"y":0.95},{"k":"b4b","x":-1.08,"y":0.87},{"k":"b4b","x":-1.15,"y":0.65},{"k":"b4b","x":-1.24,"y":0.3},{"k":"b4b","x":-1.33,"y":0.1},{"k":"b4b","x":-1.5,"y":0.04},{"k":"b4b","x":-1.7,"y":0.03},{"k":"b4b","x":-1.9,"y":0.01},{"k":"b4b","x":-2.1,"y":0.04},{"k":"b4b","x":-2.4,"y":0.01},{"k":"b4b","x":-2.7,"y":0.02},{"k":"b4b","x":-3,"y":0},{"k":"b4b","x":-3.3,"y":0.02},{"k":"b4b","x":-3.6,"y":0},
{"k":"b5g","x":3.6,"y":0},{"k":"b5g","x":1.6,"y":0},{"k":"b5g","x":1.2,"y":0.02},{"k":"b5g","x":1,"y":0.04},{"k":"b5g","x":0.88,"y":0.08},{"k":"b5g","x":0.78,"y":0.2},{"k":"b5g","x":0.7,"y":0.45},{"k":"b5g","x":0.62,"y":0.8},{"k":"b5g","x":0.52,"y":0.98},{"k":"b5g","x":0.42,"y":0.86},{"k":"b5g","x":0.3,"y":0.66},{"k":"b5g","x":0.18,"y":0.56},{"k":"b5g","x":0,"y":0.53},{"k":"b5g","x":-0.18,"y":0.56},{"k":"b5g","x":-0.3,"y":0.66},{"k":"b5g","x":-0.42,"y":0.86},{"k":"b5g","x":-0.52,"y":0.98},{"k":"b5g","x":-0.62,"y":0.8},{"k":"b5g","x":-0.7,"y":0.45},{"k":"b5g","x":-0.78,"y":0.2},{"k":"b5g","x":-0.88,"y":0.08},{"k":"b5g","x":-1,"y":0.04},{"k":"b5g","x":-1.2,"y":0.02},{"k":"b5g","x":-1.6,"y":0},{"k":"b5g","x":-3.6,"y":0},
{"k":"b5b","x":3.6,"y":0},{"k":"b5b","x":3.3,"y":0.01},{"k":"b5b","x":3,"y":0},{"k":"b5b","x":2.7,"y":0.02},{"k":"b5b","x":2.4,"y":0},{"k":"b5b","x":2.1,"y":0.02},{"k":"b5b","x":1.8,"y":0.01},{"k":"b5b","x":1.5,"y":0.03},{"k":"b5b","x":1.2,"y":0.04},{"k":"b5b","x":1,"y":0.07},{"k":"b5b","x":0.88,"y":0.12},{"k":"b5b","x":0.78,"y":0.25},{"k":"b5b","x":0.7,"y":0.47},{"k":"b5b","x":0.62,"y":0.8},{"k":"b5b","x":0.52,"y":0.99},{"k":"b5b","x":0.42,"y":0.93},{"k":"b5b","x":0.3,"y":0.87},{"k":"b5b","x":0.15,"y":0.83},{"k":"b5b","x":0,"y":0.86},{"k":"b5b","x":-0.15,"y":0.83},{"k":"b5b","x":-0.3,"y":0.87},{"k":"b5b","x":-0.42,"y":0.93},{"k":"b5b","x":-0.52,"y":0.99},{"k":"b5b","x":-0.62,"y":0.8},{"k":"b5b","x":-0.7,"y":0.47},{"k":"b5b","x":-0.78,"y":0.25},{"k":"b5b","x":-0.88,"y":0.12},{"k":"b5b","x":-1,"y":0.07},{"k":"b5b","x":-1.2,"y":0.04},{"k":"b5b","x":-1.5,"y":0.02},{"k":"b5b","x":-1.8,"y":0.03},{"k":"b5b","x":-2.1,"y":0.01},{"k":"b5b","x":-2.4,"y":0.02},{"k":"b5b","x":-2.7,"y":0},{"k":"b5b","x":-3,"y":0.01},{"k":"b5b","x":-3.3,"y":0},{"k":"b5b","x":-3.6,"y":0.01},
{"k":"b6g","x":3.6,"y":0},{"k":"b6g","x":1.6,"y":0},{"k":"b6g","x":1.2,"y":0.02},{"k":"b6g","x":0.96,"y":0.04},{"k":"b6g","x":0.84,"y":0.08},{"k":"b6g","x":0.74,"y":0.2},{"k":"b6g","x":0.66,"y":0.45},{"k":"b6g","x":0.58,"y":0.8},{"k":"b6g","x":0.48,"y":1},{"k":"b6g","x":0.38,"y":0.88},{"k":"b6g","x":0.27,"y":0.68},{"k":"b6g","x":0.15,"y":0.58},{"k":"b6g","x":0,"y":0.55},{"k":"b6g","x":-0.15,"y":0.58},{"k":"b6g","x":-0.27,"y":0.68},{"k":"b6g","x":-0.38,"y":0.88},{"k":"b6g","x":-0.48,"y":1},{"k":"b6g","x":-0.58,"y":0.8},{"k":"b6g","x":-0.66,"y":0.45},{"k":"b6g","x":-0.74,"y":0.2},{"k":"b6g","x":-0.84,"y":0.08},{"k":"b6g","x":-0.96,"y":0.04},{"k":"b6g","x":-1.2,"y":0.02},{"k":"b6g","x":-1.6,"y":0},{"k":"b6g","x":-3.6,"y":0},
{"k":"b6b","x":3.6,"y":0.01},{"k":"b6b","x":3.3,"y":0},{"k":"b6b","x":3,"y":0.02},{"k":"b6b","x":2.7,"y":0},{"k":"b6b","x":2.4,"y":0.01},{"k":"b6b","x":2.1,"y":0.03},{"k":"b6b","x":1.8,"y":0.01},{"k":"b6b","x":1.5,"y":0.02},{"k":"b6b","x":1.2,"y":0.04},{"k":"b6b","x":0.96,"y":0.07},{"k":"b6b","x":0.84,"y":0.13},{"k":"b6b","x":0.74,"y":0.27},{"k":"b6b","x":0.66,"y":0.5},{"k":"b6b","x":0.58,"y":0.82},{"k":"b6b","x":0.48,"y":1.03},{"k":"b6b","x":0.38,"y":0.96},{"k":"b6b","x":0.27,"y":0.9},{"k":"b6b","x":0.14,"y":0.86},{"k":"b6b","x":0,"y":0.88},{"k":"b6b","x":-0.14,"y":0.86},{"k":"b6b","x":-0.27,"y":0.9},{"k":"b6b","x":-0.38,"y":0.96},{"k":"b6b","x":-0.48,"y":1.03},{"k":"b6b","x":-0.58,"y":0.82},{"k":"b6b","x":-0.66,"y":0.5},{"k":"b6b","x":-0.74,"y":0.27},{"k":"b6b","x":-0.84,"y":0.13},{"k":"b6b","x":-0.96,"y":0.07},{"k":"b6b","x":-1.2,"y":0.04},{"k":"b6b","x":-1.5,"y":0.02},{"k":"b6b","x":-1.8,"y":0.03},{"k":"b6b","x":-2.1,"y":0},{"k":"b6b","x":-2.4,"y":0.02},{"k":"b6b","x":-2.7,"y":0.01},{"k":"b6b","x":-3,"y":0.02},{"k":"b6b","x":-3.3,"y":0},{"k":"b6b","x":-3.6,"y":0.01},
{"k":"c1g","x":3.6,"y":0},{"k":"c1g","x":2,"y":0.01},{"k":"c1g","x":1.75,"y":0.02},{"k":"c1g","x":1.62,"y":0.06},{"k":"c1g","x":1.51,"y":0.18},{"k":"c1g","x":1.45,"y":0.35},{"k":"c1g","x":1.39,"y":0.52},{"k":"c1g","x":1.33,"y":0.68},{"k":"c1g","x":1.27,"y":0.78},{"k":"c1g","x":1.17,"y":0.65},{"k":"c1g","x":1.07,"y":0.55},{"k":"c1g","x":0.96,"y":0.5},{"k":"c1g","x":0.8,"y":0.44},{"k":"c1g","x":0.65,"y":0.4},{"k":"c1g","x":0.5,"y":0.37},{"k":"c1g","x":0.34,"y":0.35},{"k":"c1g","x":0.22,"y":0.32},{"k":"c1g","x":0.12,"y":0.27},{"k":"c1g","x":0.05,"y":0.23},{"k":"c1g","x":0,"y":0.23},{"k":"c1g","x":-0.05,"y":0.23},{"k":"c1g","x":-0.12,"y":0.27},{"k":"c1g","x":-0.22,"y":0.32},{"k":"c1g","x":-0.34,"y":0.35},{"k":"c1g","x":-0.5,"y":0.37},{"k":"c1g","x":-0.65,"y":0.4},{"k":"c1g","x":-0.8,"y":0.44},{"k":"c1g","x":-0.96,"y":0.5},{"k":"c1g","x":-1.07,"y":0.55},{"k":"c1g","x":-1.17,"y":0.65},{"k":"c1g","x":-1.27,"y":0.78},{"k":"c1g","x":-1.33,"y":0.68},{"k":"c1g","x":-1.39,"y":0.52},{"k":"c1g","x":-1.45,"y":0.35},{"k":"c1g","x":-1.51,"y":0.18},{"k":"c1g","x":-1.62,"y":0.06},{"k":"c1g","x":-1.75,"y":0.02},{"k":"c1g","x":-2,"y":0.01},{"k":"c1g","x":-3.6,"y":0},
{"k":"c1b","x":3.6,"y":0},{"k":"c1b","x":3.3,"y":-0.01},{"k":"c1b","x":3,"y":0.01},{"k":"c1b","x":2.8,"y":-0.01},{"k":"c1b","x":2.62,"y":0.05},{"k":"c1b","x":2.45,"y":0},{"k":"c1b","x":2.2,"y":0.02},{"k":"c1b","x":2,"y":0},{"k":"c1b","x":1.8,"y":0.02},{"k":"c1b","x":1.62,"y":0.06},{"k":"c1b","x":1.51,"y":0.18},{"k":"c1b","x":1.45,"y":0.35},{"k":"c1b","x":1.39,"y":0.52},{"k":"c1b","x":1.33,"y":0.68},{"k":"c1b","x":1.27,"y":0.78},{"k":"c1b","x":1.17,"y":0.64},{"k":"c1b","x":1.07,"y":0.52},{"k":"c1b","x":0.96,"y":0.47},{"k":"c1b","x":0.8,"y":0.39},{"k":"c1b","x":0.65,"y":0.34},{"k":"c1b","x":0.5,"y":0.33},{"k":"c1b","x":0.34,"y":0.32},{"k":"c1b","x":0.22,"y":0.22},{"k":"c1b","x":0.14,"y":0.15},{"k":"c1b","x":0.06,"y":-0.05},{"k":"c1b","x":0,"y":-0.25},{"k":"c1b","x":-0.06,"y":-0.05},{"k":"c1b","x":-0.14,"y":0.15},{"k":"c1b","x":-0.22,"y":0.22},{"k":"c1b","x":-0.34,"y":0.32},{"k":"c1b","x":-0.5,"y":0.33},{"k":"c1b","x":-0.65,"y":0.34},{"k":"c1b","x":-0.8,"y":0.39},{"k":"c1b","x":-0.96,"y":0.47},{"k":"c1b","x":-1.07,"y":0.52},{"k":"c1b","x":-1.17,"y":0.64},{"k":"c1b","x":-1.27,"y":0.78},{"k":"c1b","x":-1.33,"y":0.68},{"k":"c1b","x":-1.39,"y":0.52},{"k":"c1b","x":-1.45,"y":0.35},{"k":"c1b","x":-1.51,"y":0.18},{"k":"c1b","x":-1.62,"y":0.06},{"k":"c1b","x":-1.8,"y":0.02},{"k":"c1b","x":-2,"y":0.01},{"k":"c1b","x":-2.2,"y":0.04},{"k":"c1b","x":-2.4,"y":0},{"k":"c1b","x":-2.6,"y":0.03},{"k":"c1b","x":-2.8,"y":0},{"k":"c1b","x":-3.1,"y":0.02},{"k":"c1b","x":-3.3,"y":-0.01},{"k":"c1b","x":-3.6,"y":0},
{"k":"c2g","x":3.6,"y":0},{"k":"c2g","x":1.8,"y":0.01},{"k":"c2g","x":1.5,"y":0.03},{"k":"c2g","x":1.35,"y":0.05},{"k":"c2g","x":1.27,"y":0.08},{"k":"c2g","x":1.2,"y":0.2},{"k":"c2g","x":1.14,"y":0.36},{"k":"c2g","x":1.08,"y":0.56},{"k":"c2g","x":1.02,"y":0.75},{"k":"c2g","x":0.92,"y":0.95},{"k":"c2g","x":0.83,"y":0.82},{"k":"c2g","x":0.74,"y":0.72},{"k":"c2g","x":0.65,"y":0.65},{"k":"c2g","x":0.5,"y":0.56},{"k":"c2g","x":0.34,"y":0.5},{"k":"c2g","x":0.22,"y":0.45},{"k":"c2g","x":0.12,"y":0.38},{"k":"c2g","x":0.05,"y":0.33},{"k":"c2g","x":0,"y":0.32},{"k":"c2g","x":-0.05,"y":0.33},{"k":"c2g","x":-0.12,"y":0.38},{"k":"c2g","x":-0.22,"y":0.45},{"k":"c2g","x":-0.34,"y":0.5},{"k":"c2g","x":-0.5,"y":0.56},{"k":"c2g","x":-0.65,"y":0.65},{"k":"c2g","x":-0.74,"y":0.72},{"k":"c2g","x":-0.83,"y":0.82},{"k":"c2g","x":-0.92,"y":0.95},{"k":"c2g","x":-1.02,"y":0.75},{"k":"c2g","x":-1.08,"y":0.56},{"k":"c2g","x":-1.14,"y":0.36},{"k":"c2g","x":-1.2,"y":0.2},{"k":"c2g","x":-1.27,"y":0.08},{"k":"c2g","x":-1.35,"y":0.05},{"k":"c2g","x":-1.5,"y":0.03},{"k":"c2g","x":-1.8,"y":0.01},{"k":"c2g","x":-3.6,"y":0},
{"k":"c2b","x":3.6,"y":0},{"k":"c2b","x":3.3,"y":0.01},{"k":"c2b","x":3,"y":-0.01},{"k":"c2b","x":2.8,"y":0.01},{"k":"c2b","x":2.62,"y":0.05},{"k":"c2b","x":2.38,"y":-0.03},{"k":"c2b","x":2.2,"y":0.02},{"k":"c2b","x":2,"y":0.03},{"k":"c2b","x":1.8,"y":0.01},{"k":"c2b","x":1.5,"y":0.03},{"k":"c2b","x":1.35,"y":0.05},{"k":"c2b","x":1.27,"y":0.08},{"k":"c2b","x":1.2,"y":0.2},{"k":"c2b","x":1.14,"y":0.36},{"k":"c2b","x":1.08,"y":0.56},{"k":"c2b","x":1.02,"y":0.75},{"k":"c2b","x":0.92,"y":0.95},{"k":"c2b","x":0.83,"y":0.8},{"k":"c2b","x":0.74,"y":0.68},{"k":"c2b","x":0.65,"y":0.6},{"k":"c2b","x":0.5,"y":0.49},{"k":"c2b","x":0.34,"y":0.38},{"k":"c2b","x":0.22,"y":0.26},{"k":"c2b","x":0.14,"y":0.16},{"k":"c2b","x":0.06,"y":0.03},{"k":"c2b","x":0,"y":-0.1},{"k":"c2b","x":-0.06,"y":0.03},{"k":"c2b","x":-0.14,"y":0.16},{"k":"c2b","x":-0.22,"y":0.26},{"k":"c2b","x":-0.34,"y":0.38},{"k":"c2b","x":-0.5,"y":0.49},{"k":"c2b","x":-0.65,"y":0.6},{"k":"c2b","x":-0.74,"y":0.68},{"k":"c2b","x":-0.83,"y":0.8},{"k":"c2b","x":-0.92,"y":0.95},{"k":"c2b","x":-1.02,"y":0.75},{"k":"c2b","x":-1.08,"y":0.56},{"k":"c2b","x":-1.14,"y":0.36},{"k":"c2b","x":-1.2,"y":0.2},{"k":"c2b","x":-1.27,"y":0.08},{"k":"c2b","x":-1.35,"y":0.05},{"k":"c2b","x":-1.5,"y":0.03},{"k":"c2b","x":-1.8,"y":0.01},{"k":"c2b","x":-2.1,"y":0.03},{"k":"c2b","x":-2.4,"y":0},{"k":"c2b","x":-2.61,"y":0.05},{"k":"c2b","x":-2.8,"y":-0.02},{"k":"c2b","x":-3.05,"y":0.01},{"k":"c2b","x":-3.3,"y":0},{"k":"c2b","x":-3.6,"y":0.01},
{"k":"c3g","x":3.6,"y":0},{"k":"c3g","x":1.8,"y":0.01},{"k":"c3g","x":1.5,"y":0.02},{"k":"c3g","x":1.35,"y":0.05},{"k":"c3g","x":1.27,"y":0.1},{"k":"c3g","x":1.2,"y":0.25},{"k":"c3g","x":1.12,"y":0.5},{"k":"c3g","x":1.03,"y":0.78},{"k":"c3g","x":0.95,"y":0.88},{"k":"c3g","x":0.85,"y":0.75},{"k":"c3g","x":0.74,"y":0.64},{"k":"c3g","x":0.65,"y":0.58},{"k":"c3g","x":0.5,"y":0.5},{"k":"c3g","x":0.34,"y":0.45},{"k":"c3g","x":0.22,"y":0.4},{"k":"c3g","x":0.12,"y":0.35},{"k":"c3g","x":0.05,"y":0.3},{"k":"c3g","x":0,"y":0.28},{"k":"c3g","x":-0.05,"y":0.3},{"k":"c3g","x":-0.12,"y":0.35},{"k":"c3g","x":-0.22,"y":0.4},{"k":"c3g","x":-0.34,"y":0.45},{"k":"c3g","x":-0.5,"y":0.5},{"k":"c3g","x":-0.65,"y":0.58},{"k":"c3g","x":-0.74,"y":0.64},{"k":"c3g","x":-0.85,"y":0.75},{"k":"c3g","x":-0.95,"y":0.88},{"k":"c3g","x":-1.03,"y":0.78},{"k":"c3g","x":-1.12,"y":0.5},{"k":"c3g","x":-1.2,"y":0.25},{"k":"c3g","x":-1.27,"y":0.1},{"k":"c3g","x":-1.35,"y":0.05},{"k":"c3g","x":-1.5,"y":0.02},{"k":"c3g","x":-1.8,"y":0.01},{"k":"c3g","x":-3.6,"y":0},
{"k":"c3b","x":3.6,"y":0},{"k":"c3b","x":3.3,"y":-0.01},{"k":"c3b","x":3,"y":0.01},{"k":"c3b","x":2.7,"y":0},{"k":"c3b","x":2.55,"y":0.03},{"k":"c3b","x":2.4,"y":0},{"k":"c3b","x":2.1,"y":0.02},{"k":"c3b","x":1.8,"y":0.01},{"k":"c3b","x":1.5,"y":0.02},{"k":"c3b","x":1.35,"y":0.05},{"k":"c3b","x":1.27,"y":0.1},{"k":"c3b","x":1.2,"y":0.25},{"k":"c3b","x":1.12,"y":0.5},{"k":"c3b","x":1.03,"y":0.78},{"k":"c3b","x":0.95,"y":0.88},{"k":"c3b","x":0.85,"y":0.72},{"k":"c3b","x":0.74,"y":0.6},{"k":"c3b","x":0.65,"y":0.52},{"k":"c3b","x":0.5,"y":0.4},{"k":"c3b","x":0.34,"y":0.3},{"k":"c3b","x":0.22,"y":0.2},{"k":"c3b","x":0.14,"y":0.1},{"k":"c3b","x":0.06,"y":0},{"k":"c3b","x":0,"y":-0.13},{"k":"c3b","x":-0.06,"y":0},{"k":"c3b","x":-0.14,"y":0.1},{"k":"c3b","x":-0.22,"y":0.2},{"k":"c3b","x":-0.34,"y":0.3},{"k":"c3b","x":-0.5,"y":0.4},{"k":"c3b","x":-0.65,"y":0.52},{"k":"c3b","x":-0.74,"y":0.6},{"k":"c3b","x":-0.85,"y":0.72},{"k":"c3b","x":-0.95,"y":0.88},{"k":"c3b","x":-1.03,"y":0.78},{"k":"c3b","x":-1.12,"y":0.5},{"k":"c3b","x":-1.2,"y":0.25},{"k":"c3b","x":-1.27,"y":0.1},{"k":"c3b","x":-1.35,"y":0.05},{"k":"c3b","x":-1.5,"y":0.02},{"k":"c3b","x":-1.8,"y":0.01},{"k":"c3b","x":-2.1,"y":0.02},{"k":"c3b","x":-2.4,"y":0},{"k":"c3b","x":-2.6,"y":0.03},{"k":"c3b","x":-2.9,"y":0},{"k":"c3b","x":-3.2,"y":0.02},{"k":"c3b","x":-3.4,"y":-0.01},{"k":"c3b","x":-3.6,"y":0.01},
{"k":"c4g","x":3.6,"y":0},{"k":"c4g","x":1.9,"y":0.01},{"k":"c4g","x":1.6,"y":0.03},{"k":"c4g","x":1.45,"y":0.05},{"k":"c4g","x":1.35,"y":0.1},{"k":"c4g","x":1.27,"y":0.28},{"k":"c4g","x":1.18,"y":0.55},{"k":"c4g","x":1.08,"y":0.82},{"k":"c4g","x":1.01,"y":0.9},{"k":"c4g","x":0.9,"y":0.73},{"k":"c4g","x":0.8,"y":0.62},{"k":"c4g","x":0.65,"y":0.54},{"k":"c4g","x":0.5,"y":0.47},{"k":"c4g","x":0.34,"y":0.42},{"k":"c4g","x":0.22,"y":0.38},{"k":"c4g","x":0.12,"y":0.33},{"k":"c4g","x":0.05,"y":0.3},{"k":"c4g","x":0,"y":0.29},{"k":"c4g","x":-0.05,"y":0.3},{"k":"c4g","x":-0.12,"y":0.33},{"k":"c4g","x":-0.22,"y":0.38},{"k":"c4g","x":-0.34,"y":0.42},{"k":"c4g","x":-0.5,"y":0.47},{"k":"c4g","x":-0.65,"y":0.54},{"k":"c4g","x":-0.8,"y":0.62},{"k":"c4g","x":-0.9,"y":0.73},{"k":"c4g","x":-1.01,"y":0.9},{"k":"c4g","x":-1.08,"y":0.82},{"k":"c4g","x":-1.18,"y":0.55},{"k":"c4g","x":-1.27,"y":0.28},{"k":"c4g","x":-1.35,"y":0.1},{"k":"c4g","x":-1.45,"y":0.05},{"k":"c4g","x":-1.6,"y":0.03},{"k":"c4g","x":-1.9,"y":0.01},{"k":"c4g","x":-3.6,"y":0},
{"k":"c4b","x":3.6,"y":0},{"k":"c4b","x":3.3,"y":0.01},{"k":"c4b","x":3,"y":-0.01},{"k":"c4b","x":2.8,"y":0.02},{"k":"c4b","x":2.56,"y":0.07},{"k":"c4b","x":2.4,"y":0},{"k":"c4b","x":2.2,"y":0.02},{"k":"c4b","x":2,"y":0},{"k":"c4b","x":1.8,"y":0.03},{"k":"c4b","x":1.6,"y":0.03},{"k":"c4b","x":1.45,"y":0.05},{"k":"c4b","x":1.35,"y":0.1},{"k":"c4b","x":1.27,"y":0.28},{"k":"c4b","x":1.18,"y":0.55},{"k":"c4b","x":1.08,"y":0.82},{"k":"c4b","x":1.01,"y":0.9},{"k":"c4b","x":0.9,"y":0.7},{"k":"c4b","x":0.8,"y":0.58},{"k":"c4b","x":0.65,"y":0.48},{"k":"c4b","x":0.5,"y":0.4},{"k":"c4b","x":0.34,"y":0.33},{"k":"c4b","x":0.22,"y":0.25},{"k":"c4b","x":0.14,"y":0.14},{"k":"c4b","x":0.06,"y":0.02},{"k":"c4b","x":0,"y":-0.13},{"k":"c4b","x":-0.06,"y":0.02},{"k":"c4b","x":-0.14,"y":0.14},{"k":"c4b","x":-0.22,"y":0.25},{"k":"c4b","x":-0.34,"y":0.33},{"k":"c4b","x":-0.5,"y":0.4},{"k":"c4b","x":-0.65,"y":0.48},{"k":"c4b","x":-0.8,"y":0.58},{"k":"c4b","x":-0.9,"y":0.7},{"k":"c4b","x":-1.01,"y":0.9},{"k":"c4b","x":-1.08,"y":0.82},{"k":"c4b","x":-1.18,"y":0.55},{"k":"c4b","x":-1.27,"y":0.28},{"k":"c4b","x":-1.35,"y":0.1},{"k":"c4b","x":-1.45,"y":0.05},{"k":"c4b","x":-1.6,"y":0.03},{"k":"c4b","x":-1.8,"y":0.01},{"k":"c4b","x":-2.1,"y":0.02},{"k":"c4b","x":-2.35,"y":0},{"k":"c4b","x":-2.6,"y":0.05},{"k":"c4b","x":-2.8,"y":0},{"k":"c4b","x":-3.1,"y":0.01},{"k":"c4b","x":-3.4,"y":0},{"k":"c4b","x":-3.6,"y":0.01},
{"k":"c5g","x":3.6,"y":0},{"k":"c5g","x":1.6,"y":0},{"k":"c5g","x":1.2,"y":0.02},{"k":"c5g","x":0.98,"y":0.04},{"k":"c5g","x":0.86,"y":0.08},{"k":"c5g","x":0.76,"y":0.2},{"k":"c5g","x":0.68,"y":0.45},{"k":"c5g","x":0.6,"y":0.8},{"k":"c5g","x":0.5,"y":0.98},{"k":"c5g","x":0.4,"y":0.86},{"k":"c5g","x":0.28,"y":0.66},{"k":"c5g","x":0.16,"y":0.57},{"k":"c5g","x":0,"y":0.55},{"k":"c5g","x":-0.16,"y":0.57},{"k":"c5g","x":-0.28,"y":0.66},{"k":"c5g","x":-0.4,"y":0.86},{"k":"c5g","x":-0.5,"y":0.98},{"k":"c5g","x":-0.6,"y":0.8},{"k":"c5g","x":-0.68,"y":0.45},{"k":"c5g","x":-0.76,"y":0.2},{"k":"c5g","x":-0.86,"y":0.08},{"k":"c5g","x":-0.98,"y":0.04},{"k":"c5g","x":-1.2,"y":0.02},{"k":"c5g","x":-1.6,"y":0},{"k":"c5g","x":-3.6,"y":0},
{"k":"c5b","x":3.6,"y":0.01},{"k":"c5b","x":3.3,"y":0},{"k":"c5b","x":3,"y":0.02},{"k":"c5b","x":2.7,"y":0},{"k":"c5b","x":2.4,"y":0.01},{"k":"c5b","x":2.1,"y":0.02},{"k":"c5b","x":1.8,"y":0},{"k":"c5b","x":1.5,"y":0.03},{"k":"c5b","x":1.2,"y":0.04},{"k":"c5b","x":0.98,"y":0.07},{"k":"c5b","x":0.86,"y":0.12},{"k":"c5b","x":0.76,"y":0.25},{"k":"c5b","x":0.68,"y":0.47},{"k":"c5b","x":0.6,"y":0.8},{"k":"c5b","x":0.5,"y":0.99},{"k":"c5b","x":0.4,"y":0.9},{"k":"c5b","x":0.25,"y":0.84},{"k":"c5b","x":0.1,"y":0.85},{"k":"c5b","x":0,"y":0.88},{"k":"c5b","x":-0.1,"y":0.85},{"k":"c5b","x":-0.25,"y":0.84},{"k":"c5b","x":-0.4,"y":0.9},{"k":"c5b","x":-0.5,"y":0.99},{"k":"c5b","x":-0.6,"y":0.8},{"k":"c5b","x":-0.68,"y":0.47},{"k":"c5b","x":-0.76,"y":0.25},{"k":"c5b","x":-0.86,"y":0.12},{"k":"c5b","x":-0.98,"y":0.07},{"k":"c5b","x":-1.2,"y":0.04},{"k":"c5b","x":-1.5,"y":0.02},{"k":"c5b","x":-1.8,"y":0.03},{"k":"c5b","x":-2.1,"y":0},{"k":"c5b","x":-2.4,"y":0.02},{"k":"c5b","x":-2.7,"y":0.01},{"k":"c5b","x":-3,"y":0.02},{"k":"c5b","x":-3.3,"y":0},{"k":"c5b","x":-3.6,"y":0.01},
{"k":"c6g","x":3.6,"y":0},{"k":"c6g","x":1.6,"y":0},{"k":"c6g","x":1.2,"y":0.02},{"k":"c6g","x":0.96,"y":0.04},{"k":"c6g","x":0.84,"y":0.08},{"k":"c6g","x":0.74,"y":0.2},{"k":"c6g","x":0.66,"y":0.45},{"k":"c6g","x":0.58,"y":0.8},{"k":"c6g","x":0.48,"y":1},{"k":"c6g","x":0.38,"y":0.88},{"k":"c6g","x":0.27,"y":0.69},{"k":"c6g","x":0.15,"y":0.6},{"k":"c6g","x":0,"y":0.58},{"k":"c6g","x":-0.15,"y":0.6},{"k":"c6g","x":-0.27,"y":0.69},{"k":"c6g","x":-0.38,"y":0.88},{"k":"c6g","x":-0.48,"y":1},{"k":"c6g","x":-0.58,"y":0.8},{"k":"c6g","x":-0.66,"y":0.45},{"k":"c6g","x":-0.74,"y":0.2},{"k":"c6g","x":-0.84,"y":0.08},{"k":"c6g","x":-0.96,"y":0.04},{"k":"c6g","x":-1.2,"y":0.02},{"k":"c6g","x":-1.6,"y":0},{"k":"c6g","x":-3.6,"y":0},
{"k":"c6b","x":3.6,"y":0.01},{"k":"c6b","x":3.3,"y":0},{"k":"c6b","x":3,"y":0.01},{"k":"c6b","x":2.7,"y":0.02},{"k":"c6b","x":2.4,"y":0},{"k":"c6b","x":2.1,"y":0.02},{"k":"c6b","x":1.8,"y":0.01},{"k":"c6b","x":1.5,"y":0.02},{"k":"c6b","x":1.2,"y":0.04},{"k":"c6b","x":0.96,"y":0.07},{"k":"c6b","x":0.84,"y":0.13},{"k":"c6b","x":0.74,"y":0.27},{"k":"c6b","x":0.66,"y":0.5},{"k":"c6b","x":0.58,"y":0.82},{"k":"c6b","x":0.48,"y":1.03},{"k":"c6b","x":0.38,"y":0.95},{"k":"c6b","x":0.25,"y":0.87},{"k":"c6b","x":0.1,"y":0.87},{"k":"c6b","x":0,"y":0.9},{"k":"c6b","x":-0.1,"y":0.87},{"k":"c6b","x":-0.25,"y":0.87},{"k":"c6b","x":-0.38,"y":0.95},{"k":"c6b","x":-0.48,"y":1.03},{"k":"c6b","x":-0.58,"y":0.82},{"k":"c6b","x":-0.66,"y":0.5},{"k":"c6b","x":-0.74,"y":0.27},{"k":"c6b","x":-0.84,"y":0.13},{"k":"c6b","x":-0.96,"y":0.07},{"k":"c6b","x":-1.2,"y":0.04},{"k":"c6b","x":-1.5,"y":0.02},{"k":"c6b","x":-1.8,"y":0.02},{"k":"c6b","x":-2.1,"y":0},{"k":"c6b","x":-2.4,"y":0.02},{"k":"c6b","x":-2.7,"y":0},{"k":"c6b","x":-3,"y":0.01},{"k":"c6b","x":-3.3,"y":0.02},{"k":"c6b","x":-3.6,"y":0}
],
"mal":[
{"k":"a1l","lab":"12.3"},{"k":"a2l","lab":"3.4"},{"k":"b1l","lab":"12.3"},{"k":"b2l","lab":"3.4"},{"k":"c1l","lab":"12.3"},{"k":"c2l","lab":"3.4"},
{"k":"a1g","x":3.6,"y":0},{"k":"a1g","x":2.4,"y":0.01},{"k":"a1g","x":2,"y":0.03},{"k":"a1g","x":1.8,"y":0.05},{"k":"a1g","x":1.65,"y":0.1},{"k":"a1g","x":1.5,"y":0.2},{"k":"a1g","x":1.4,"y":0.35},{"k":"a1g","x":1.3,"y":0.5},{"k":"a1g","x":1.2,"y":0.57},{"k":"a1g","x":1.08,"y":0.5},{"k":"a1g","x":0.95,"y":0.38},{"k":"a1g","x":0.8,"y":0.3},{"k":"a1g","x":0.6,"y":0.26},{"k":"a1g","x":0.4,"y":0.24},{"k":"a1g","x":0.25,"y":0.22},{"k":"a1g","x":0.15,"y":0.2},{"k":"a1g","x":0,"y":0.2},{"k":"a1g","x":-0.15,"y":0.2},{"k":"a1g","x":-0.25,"y":0.22},{"k":"a1g","x":-0.4,"y":0.24},{"k":"a1g","x":-0.6,"y":0.26},{"k":"a1g","x":-0.8,"y":0.3},{"k":"a1g","x":-0.95,"y":0.38},{"k":"a1g","x":-1.08,"y":0.5},{"k":"a1g","x":-1.2,"y":0.57},{"k":"a1g","x":-1.3,"y":0.5},{"k":"a1g","x":-1.4,"y":0.35},{"k":"a1g","x":-1.5,"y":0.22},{"k":"a1g","x":-1.65,"y":0.1},{"k":"a1g","x":-1.8,"y":0.05},{"k":"a1g","x":-2,"y":0.03},{"k":"a1g","x":-2.4,"y":0.01},{"k":"a1g","x":-3.55,"y":0},
{"k":"a1b","x":3.6,"y":0},{"k":"a1b","x":3.2,"y":-0.01},{"k":"a1b","x":2.8,"y":0.01},{"k":"a1b","x":2.5,"y":0.02},{"k":"a1b","x":2.24,"y":0.05},{"k":"a1b","x":2,"y":0.04},{"k":"a1b","x":1.87,"y":0.08},{"k":"a1b","x":1.75,"y":0.12},{"k":"a1b","x":1.62,"y":0.17},{"k":"a1b","x":1.5,"y":0.3},{"k":"a1b","x":1.42,"y":0.4},{"k":"a1b","x":1.3,"y":0.52},{"k":"a1b","x":1.2,"y":0.58},{"k":"a1b","x":1.08,"y":0.52},{"k":"a1b","x":0.95,"y":0.4},{"k":"a1b","x":0.85,"y":0.33},{"k":"a1b","x":0.7,"y":0.28},{"k":"a1b","x":0.52,"y":0.26},{"k":"a1b","x":0.37,"y":0.21},{"k":"a1b","x":0.3,"y":0.08},{"k":"a1b","x":0.25,"y":0},{"k":"a1b","x":0.19,"y":0.12},{"k":"a1b","x":0.12,"y":0.6},{"k":"a1b","x":0.06,"y":0.9},{"k":"a1b","x":0,"y":1.03},{"k":"a1b","x":-0.06,"y":0.9},{"k":"a1b","x":-0.12,"y":0.6},{"k":"a1b","x":-0.2,"y":0.12},{"k":"a1b","x":-0.27,"y":0},{"k":"a1b","x":-0.33,"y":0.08},{"k":"a1b","x":-0.4,"y":0.21},{"k":"a1b","x":-0.55,"y":0.26},{"k":"a1b","x":-0.7,"y":0.28},{"k":"a1b","x":-0.85,"y":0.33},{"k":"a1b","x":-0.95,"y":0.4},{"k":"a1b","x":-1.08,"y":0.52},{"k":"a1b","x":-1.2,"y":0.58},{"k":"a1b","x":-1.32,"y":0.53},{"k":"a1b","x":-1.42,"y":0.43},{"k":"a1b","x":-1.51,"y":0.33},{"k":"a1b","x":-1.62,"y":0.2},{"k":"a1b","x":-1.7,"y":0.15},{"k":"a1b","x":-1.94,"y":0.07},{"k":"a1b","x":-2.2,"y":0.04},{"k":"a1b","x":-2.5,"y":0.02},{"k":"a1b","x":-2.8,"y":0.01},{"k":"a1b","x":-3.2,"y":0},{"k":"a1b","x":-3.55,"y":0.01},
{"k":"a2g","x":3.6,"y":0},{"k":"a2g","x":1.6,"y":0.01},{"k":"a2g","x":1.2,"y":0.02},{"k":"a2g","x":1,"y":0.04},{"k":"a2g","x":0.82,"y":0.07},{"k":"a2g","x":0.64,"y":0.17},{"k":"a2g","x":0.52,"y":0.33},{"k":"a2g","x":0.42,"y":0.55},{"k":"a2g","x":0.35,"y":0.68},{"k":"a2g","x":0.3,"y":0.7},{"k":"a2g","x":0.2,"y":0.6},{"k":"a2g","x":0.1,"y":0.46},{"k":"a2g","x":0,"y":0.4},{"k":"a2g","x":-0.1,"y":0.46},{"k":"a2g","x":-0.2,"y":0.6},{"k":"a2g","x":-0.3,"y":0.7},{"k":"a2g","x":-0.35,"y":0.68},{"k":"a2g","x":-0.42,"y":0.55},{"k":"a2g","x":-0.52,"y":0.33},{"k":"a2g","x":-0.64,"y":0.17},{"k":"a2g","x":-0.82,"y":0.07},{"k":"a2g","x":-1,"y":0.04},{"k":"a2g","x":-1.2,"y":0.02},{"k":"a2g","x":-1.6,"y":0.01},{"k":"a2g","x":-3.55,"y":0},
{"k":"a2b","x":3.6,"y":0},{"k":"a2b","x":3.2,"y":0.01},{"k":"a2b","x":2.8,"y":0},{"k":"a2b","x":2.4,"y":0.02},{"k":"a2b","x":2,"y":0.02},{"k":"a2b","x":1.6,"y":0.02},{"k":"a2b","x":1.2,"y":0.03},{"k":"a2b","x":1,"y":0.05},{"k":"a2b","x":0.82,"y":0.08},{"k":"a2b","x":0.64,"y":0.18},{"k":"a2b","x":0.52,"y":0.34},{"k":"a2b","x":0.42,"y":0.48},{"k":"a2b","x":0.33,"y":0.53},{"k":"a2b","x":0.22,"y":0.53},{"k":"a2b","x":0.14,"y":0.58},{"k":"a2b","x":0.07,"y":0.8},{"k":"a2b","x":0,"y":0.97},{"k":"a2b","x":-0.07,"y":0.8},{"k":"a2b","x":-0.14,"y":0.58},{"k":"a2b","x":-0.22,"y":0.53},{"k":"a2b","x":-0.33,"y":0.53},{"k":"a2b","x":-0.42,"y":0.48},{"k":"a2b","x":-0.52,"y":0.34},{"k":"a2b","x":-0.64,"y":0.18},{"k":"a2b","x":-0.82,"y":0.08},{"k":"a2b","x":-1,"y":0.05},{"k":"a2b","x":-1.2,"y":0.03},{"k":"a2b","x":-1.6,"y":0.02},{"k":"a2b","x":-2,"y":0.02},{"k":"a2b","x":-2.4,"y":0.01},{"k":"a2b","x":-2.8,"y":0.02},{"k":"a2b","x":-3.2,"y":0},{"k":"a2b","x":-3.55,"y":0.01},
{"k":"b1g","x":3.6,"y":0},{"k":"b1g","x":2,"y":0.01},{"k":"b1g","x":1.75,"y":0.03},{"k":"b1g","x":1.62,"y":0.07},{"k":"b1g","x":1.54,"y":0.17},{"k":"b1g","x":1.46,"y":0.4},{"k":"b1g","x":1.36,"y":0.72},{"k":"b1g","x":1.28,"y":0.95},{"k":"b1g","x":1.18,"y":1.04},{"k":"b1g","x":1.05,"y":0.87},{"k":"b1g","x":0.92,"y":0.8},{"k":"b1g","x":0.75,"y":0.72},{"k":"b1g","x":0.55,"y":0.63},{"k":"b1g","x":0.3,"y":0.55},{"k":"b1g","x":0.12,"y":0.42},{"k":"b1g","x":0,"y":0.33},{"k":"b1g","x":-0.12,"y":0.42},{"k":"b1g","x":-0.3,"y":0.55},{"k":"b1g","x":-0.55,"y":0.63},{"k":"b1g","x":-0.75,"y":0.72},{"k":"b1g","x":-0.92,"y":0.8},{"k":"b1g","x":-1.05,"y":0.87},{"k":"b1g","x":-1.18,"y":1.04},{"k":"b1g","x":-1.28,"y":0.95},{"k":"b1g","x":-1.36,"y":0.72},{"k":"b1g","x":-1.46,"y":0.4},{"k":"b1g","x":-1.54,"y":0.17},{"k":"b1g","x":-1.62,"y":0.07},{"k":"b1g","x":-1.75,"y":0.03},{"k":"b1g","x":-2,"y":0.01},{"k":"b1g","x":-3.6,"y":0},
{"k":"b1b","x":3.6,"y":0},{"k":"b1b","x":3.2,"y":0.01},{"k":"b1b","x":2.8,"y":0},{"k":"b1b","x":2.5,"y":0.02},{"k":"b1b","x":2.2,"y":0.01},{"k":"b1b","x":2,"y":0.03},{"k":"b1b","x":1.75,"y":0.04},{"k":"b1b","x":1.62,"y":0.08},{"k":"b1b","x":1.54,"y":0.17},{"k":"b1b","x":1.46,"y":0.4},{"k":"b1b","x":1.36,"y":0.72},{"k":"b1b","x":1.28,"y":0.95},{"k":"b1b","x":1.18,"y":1.04},{"k":"b1b","x":1.05,"y":0.82},{"k":"b1b","x":0.92,"y":0.7},{"k":"b1b","x":0.75,"y":0.58},{"k":"b1b","x":0.62,"y":0.43},{"k":"b1b","x":0.43,"y":0.27},{"k":"b1b","x":0.28,"y":0.1},{"k":"b1b","x":0.12,"y":0.3},{"k":"b1b","x":0,"y":0.52},{"k":"b1b","x":-0.12,"y":0.3},{"k":"b1b","x":-0.28,"y":0.1},{"k":"b1b","x":-0.43,"y":0.27},{"k":"b1b","x":-0.62,"y":0.43},{"k":"b1b","x":-0.75,"y":0.58},{"k":"b1b","x":-0.92,"y":0.7},{"k":"b1b","x":-1.05,"y":0.82},{"k":"b1b","x":-1.18,"y":1.04},{"k":"b1b","x":-1.28,"y":0.95},{"k":"b1b","x":-1.36,"y":0.72},{"k":"b1b","x":-1.46,"y":0.4},{"k":"b1b","x":-1.54,"y":0.17},{"k":"b1b","x":-1.62,"y":0.08},{"k":"b1b","x":-1.75,"y":0.05},{"k":"b1b","x":-2,"y":0.03},{"k":"b1b","x":-2.2,"y":0.02},{"k":"b1b","x":-2.5,"y":0.03},{"k":"b1b","x":-2.8,"y":0.01},{"k":"b1b","x":-3.2,"y":0.02},{"k":"b1b","x":-3.4,"y":0.03},{"k":"b1b","x":-3.6,"y":0.01},
{"k":"b2g","x":3.6,"y":0},{"k":"b2g","x":1.5,"y":0},{"k":"b2g","x":1,"y":0.01},{"k":"b2g","x":0.77,"y":0.02},{"k":"b2g","x":0.59,"y":0.07},{"k":"b2g","x":0.46,"y":0.25},{"k":"b2g","x":0.36,"y":0.6},{"k":"b2g","x":0.28,"y":0.9},{"k":"b2g","x":0.21,"y":1},{"k":"b2g","x":0.12,"y":0.8},{"k":"b2g","x":0.06,"y":0.65},{"k":"b2g","x":0,"y":0.6},{"k":"b2g","x":-0.06,"y":0.65},{"k":"b2g","x":-0.12,"y":0.8},{"k":"b2g","x":-0.21,"y":1},{"k":"b2g","x":-0.28,"y":0.9},{"k":"b2g","x":-0.36,"y":0.6},{"k":"b2g","x":-0.46,"y":0.25},{"k":"b2g","x":-0.59,"y":0.07},{"k":"b2g","x":-0.77,"y":0.02},{"k":"b2g","x":-1,"y":0.01},{"k":"b2g","x":-1.5,"y":0},{"k":"b2g","x":-3.6,"y":0},
{"k":"b2b","x":3.6,"y":0},{"k":"b2b","x":3.2,"y":0.01},{"k":"b2b","x":2.8,"y":0},{"k":"b2b","x":2.4,"y":0.02},{"k":"b2b","x":2,"y":0.01},{"k":"b2b","x":1.5,"y":0.02},{"k":"b2b","x":1,"y":0.02},{"k":"b2b","x":0.77,"y":0.04},{"k":"b2b","x":0.59,"y":0.1},{"k":"b2b","x":0.46,"y":0.3},{"k":"b2b","x":0.36,"y":0.62},{"k":"b2b","x":0.28,"y":0.92},{"k":"b2b","x":0.21,"y":1.02},{"k":"b2b","x":0.12,"y":0.88},{"k":"b2b","x":0,"y":0.8},{"k":"b2b","x":-0.12,"y":0.88},{"k":"b2b","x":-0.21,"y":1.02},{"k":"b2b","x":-0.28,"y":0.92},{"k":"b2b","x":-0.36,"y":0.62},{"k":"b2b","x":-0.46,"y":0.3},{"k":"b2b","x":-0.59,"y":0.1},{"k":"b2b","x":-0.77,"y":0.04},{"k":"b2b","x":-1,"y":0.02},{"k":"b2b","x":-1.5,"y":0.02},{"k":"b2b","x":-2,"y":0.01},{"k":"b2b","x":-2.4,"y":0.02},{"k":"b2b","x":-2.8,"y":0},{"k":"b2b","x":-3.2,"y":0.02},{"k":"b2b","x":-3.6,"y":0.01},
{"k":"c1g","x":3.6,"y":0},{"k":"c1g","x":2,"y":0.01},{"k":"c1g","x":1.7,"y":0.02},{"k":"c1g","x":1.58,"y":0.06},{"k":"c1g","x":1.48,"y":0.18},{"k":"c1g","x":1.39,"y":0.42},{"k":"c1g","x":1.3,"y":0.65},{"k":"c1g","x":1.2,"y":0.92},{"k":"c1g","x":1.14,"y":1.03},{"k":"c1g","x":1.04,"y":0.9},{"k":"c1g","x":0.84,"y":0.8},{"k":"c1g","x":0.68,"y":0.7},{"k":"c1g","x":0.53,"y":0.63},{"k":"c1g","x":0.34,"y":0.53},{"k":"c1g","x":0.16,"y":0.37},{"k":"c1g","x":0.06,"y":0.31},{"k":"c1g","x":0,"y":0.3},{"k":"c1g","x":-0.06,"y":0.31},{"k":"c1g","x":-0.16,"y":0.37},{"k":"c1g","x":-0.34,"y":0.53},{"k":"c1g","x":-0.53,"y":0.63},{"k":"c1g","x":-0.68,"y":0.7},{"k":"c1g","x":-0.84,"y":0.8},{"k":"c1g","x":-1.04,"y":0.9},{"k":"c1g","x":-1.14,"y":1.03},{"k":"c1g","x":-1.2,"y":0.92},{"k":"c1g","x":-1.3,"y":0.65},{"k":"c1g","x":-1.39,"y":0.42},{"k":"c1g","x":-1.48,"y":0.18},{"k":"c1g","x":-1.58,"y":0.06},{"k":"c1g","x":-1.7,"y":0.02},{"k":"c1g","x":-2,"y":0.01},{"k":"c1g","x":-3.6,"y":0},
{"k":"c1b","x":3.6,"y":0},{"k":"c1b","x":3.3,"y":0.01},{"k":"c1b","x":3,"y":0},{"k":"c1b","x":2.7,"y":0.02},{"k":"c1b","x":2.4,"y":0.01},{"k":"c1b","x":2.1,"y":0.03},{"k":"c1b","x":1.9,"y":0.02},{"k":"c1b","x":1.7,"y":0.07},{"k":"c1b","x":1.58,"y":0.06},{"k":"c1b","x":1.48,"y":0.18},{"k":"c1b","x":1.39,"y":0.42},{"k":"c1b","x":1.3,"y":0.65},{"k":"c1b","x":1.2,"y":0.92},{"k":"c1b","x":1.14,"y":1.03},{"k":"c1b","x":1.04,"y":0.85},{"k":"c1b","x":0.84,"y":0.7},{"k":"c1b","x":0.53,"y":0.43},{"k":"c1b","x":0.28,"y":0.3},{"k":"c1b","x":0.16,"y":0.27},{"k":"c1b","x":0.08,"y":0.33},{"k":"c1b","x":0,"y":0.42},{"k":"c1b","x":-0.08,"y":0.33},{"k":"c1b","x":-0.16,"y":0.27},{"k":"c1b","x":-0.28,"y":0.3},{"k":"c1b","x":-0.53,"y":0.43},{"k":"c1b","x":-0.84,"y":0.7},{"k":"c1b","x":-1.04,"y":0.85},{"k":"c1b","x":-1.14,"y":1.03},{"k":"c1b","x":-1.2,"y":0.92},{"k":"c1b","x":-1.3,"y":0.65},{"k":"c1b","x":-1.39,"y":0.42},{"k":"c1b","x":-1.48,"y":0.18},{"k":"c1b","x":-1.58,"y":0.06},{"k":"c1b","x":-1.7,"y":0.03},{"k":"c1b","x":-1.9,"y":0.02},{"k":"c1b","x":-2.1,"y":0.03},{"k":"c1b","x":-2.4,"y":0.01},{"k":"c1b","x":-2.7,"y":0.02},{"k":"c1b","x":-3,"y":0},{"k":"c1b","x":-3.3,"y":0.01},{"k":"c1b","x":-3.6,"y":0.02},
{"k":"c2g","x":3.6,"y":0},{"k":"c2g","x":1.5,"y":0},{"k":"c2g","x":1,"y":0.01},{"k":"c2g","x":0.65,"y":0.05},{"k":"c2g","x":0.53,"y":0.17},{"k":"c2g","x":0.42,"y":0.38},{"k":"c2g","x":0.34,"y":0.6},{"k":"c2g","x":0.27,"y":0.9},{"k":"c2g","x":0.21,"y":1},{"k":"c2g","x":0.12,"y":0.78},{"k":"c2g","x":0.05,"y":0.63},{"k":"c2g","x":0,"y":0.6},{"k":"c2g","x":-0.05,"y":0.63},{"k":"c2g","x":-0.12,"y":0.78},{"k":"c2g","x":-0.21,"y":1},{"k":"c2g","x":-0.27,"y":0.9},{"k":"c2g","x":-0.34,"y":0.6},{"k":"c2g","x":-0.42,"y":0.38},{"k":"c2g","x":-0.53,"y":0.17},{"k":"c2g","x":-0.65,"y":0.05},{"k":"c2g","x":-1,"y":0.01},{"k":"c2g","x":-1.5,"y":0},{"k":"c2g","x":-3.6,"y":0},
{"k":"c2b","x":3.6,"y":0},{"k":"c2b","x":3.2,"y":0.01},{"k":"c2b","x":2.8,"y":0},{"k":"c2b","x":2.4,"y":0.01},{"k":"c2b","x":2,"y":0.01},{"k":"c2b","x":1.5,"y":0.02},{"k":"c2b","x":1,"y":0.02},{"k":"c2b","x":0.65,"y":0.07},{"k":"c2b","x":0.53,"y":0.2},{"k":"c2b","x":0.42,"y":0.4},{"k":"c2b","x":0.34,"y":0.62},{"k":"c2b","x":0.27,"y":0.92},{"k":"c2b","x":0.21,"y":1.03},{"k":"c2b","x":0.12,"y":0.92},{"k":"c2b","x":0,"y":0.87},{"k":"c2b","x":-0.12,"y":0.92},{"k":"c2b","x":-0.21,"y":1.03},{"k":"c2b","x":-0.27,"y":0.92},{"k":"c2b","x":-0.34,"y":0.62},{"k":"c2b","x":-0.42,"y":0.4},{"k":"c2b","x":-0.53,"y":0.2},{"k":"c2b","x":-0.65,"y":0.07},{"k":"c2b","x":-1,"y":0.02},{"k":"c2b","x":-1.5,"y":0.02},{"k":"c2b","x":-2,"y":0.01},{"k":"c2b","x":-2.4,"y":0.02},{"k":"c2b","x":-2.8,"y":0},{"k":"c2b","x":-3.2,"y":0.02},{"k":"c2b","x":-3.6,"y":0.01}
]
},
"spacing":15,
"vconcat":[
{"data":{"name":"cit"},
 "transform":[{"lookup":"k","from":{"data":{"name":"keys"},"key":"k","fields":["c","r","s"]}}],
 "title":{"text":"Citric acid","anchor":"start","fontSize":19,"offset":8},
 "bounds":"flush",
 "spacing":{"row":18.6,"column":71.5},
 "facet":{"row":{"field":"r","type":"ordinal","header":{"labels":false,"title":null}},
  "column":{"field":"c","type":"nominal","header":{"title":null,"labelFontSize":13,"labelColor":"#111","labelFont":"Open Sans","labelPadding":4,"labelExpr":"datum.value == 'a' ? 'R16₃²(180°)' : datum.value == 'b' ? 'R18₈⁷(270°90°)' : 'R20₉⁸(270°90°)'"}}},
 "spec":{"width":195,"height":110,
  "layer":[
   {"transform":[{"filter":"datum.s == 'g'"}],"mark":{"type":"line","color":"#33992b","strokeWidth":2,"interpolate":"monotone"},
    "encoding":{"x":{"field":"x","type":"quantitative","scale":{"domain":[3.6,-3.6],"nice":false,"zero":false},"axis":{"values":[3,0,-3],"labelExpr":"datum.value > 0 ? '3.0' : datum.value < 0 ? '-3.0' : '0'","title":"ν₁(kHz)","ticks":false,"tickSize":0,"grid":false,"domainColor":"#000","domainWidth":1.5,"labelFontSize":15,"labelColor":"#111","titleFontSize":14,"titleFontWeight":"normal","titleColor":"#111","labelPadding":4,"titlePadding":5,"labelFlush":false}},
     "y":{"field":"y","type":"quantitative","scale":{"domain":[-0.09,1.01],"nice":false,"zero":false},"axis":null}}},
   {"transform":[{"filter":"datum.s == 'b'"}],"mark":{"type":"line","color":"#8c5a19","strokeWidth":2.2,"interpolate":"monotone"},
    "encoding":{"x":{"field":"x","type":"quantitative"},"y":{"field":"y","type":"quantitative"}}},
   {"transform":[{"filter":"datum.s == 'l'"}],"mark":{"type":"text","align":"left","baseline":"middle","fontSize":15},
    "encoding":{"x":{"datum":3.5,"type":"quantitative"},"y":{"datum":0.17,"type":"quantitative"},"text":{"field":"lab"}}},
   {"transform":[{"filter":"datum.s == 'l' && datum.r == 1"}],"mark":{"type":"text","align":"left","baseline":"middle","fontSize":18,"font":"Liberation Serif","dx":-19,"text":"δ"},
    "encoding":{"x":{"datum":3.6,"type":"quantitative"},"y":{"datum":0.5,"type":"quantitative"}}},
   {"transform":[{"filter":"datum.s == 'l' && datum.r == 1"}],"mark":{"type":"text","align":"left","baseline":"middle","fontSize":11,"dx":-10,"dy":5,"text":"iso"},
    "encoding":{"x":{"datum":3.6,"type":"quantitative"},"y":{"datum":0.5,"type":"quantitative"}}},
   {"transform":[{"filter":"datum.s == 'l' && datum.r == 1"}],"mark":{"type":"text","align":"left","baseline":"middle","fontSize":16,"dx":5,"text":"(ppm)"},
    "encoding":{"x":{"datum":3.6,"type":"quantitative"},"y":{"datum":0.5,"type":"quantitative"}}}
  ]}},
{"data":{"name":"mal"},
 "transform":[{"lookup":"k","from":{"data":{"name":"keys"},"key":"k","fields":["c","r","s"]}}],
 "title":{"text":"Malonic acid","anchor":"start","fontSize":19,"offset":8},
 "bounds":"flush",
 "spacing":{"row":10,"column":71.5},
 "facet":{"row":{"field":"r","type":"ordinal","header":{"labels":false,"title":null}},
  "column":{"field":"c","type":"nominal","header":{"title":null,"labelFontSize":13,"labelColor":"#111","labelFont":"Open Sans","labelPadding":17,"labelExpr":"datum.value == 'a' ? 'R16₃²(180°)' : datum.value == 'b' ? 'R18₈⁷(270°90°)' : 'R20₉⁸(270°90°)'"}}},
 "spec":{"width":195,"height":110,
  "layer":[
   {"transform":[{"filter":"datum.s == 'g'"}],"mark":{"type":"line","color":"#33992b","strokeWidth":2,"interpolate":"monotone"},
    "encoding":{"x":{"field":"x","type":"quantitative","scale":{"domain":[3.6,-3.6],"nice":false,"zero":false},"axis":{"values":[3,0,-3],"labelExpr":"datum.value > 0 ? '3.0' : datum.value < 0 ? '-3.0' : '0'","title":"ν₁(kHz)","ticks":false,"tickSize":0,"grid":false,"domainColor":"#000","domainWidth":2,"labelFontSize":15,"labelColor":"#111","titleFontSize":14,"titleFontWeight":"normal","titleColor":"#111","labelPadding":4,"titlePadding":5,"labelFlush":false}},
     "y":{"field":"y","type":"quantitative","scale":{"domain":[-0.1,1.0],"nice":false,"zero":false},"axis":null}}},
   {"transform":[{"filter":"datum.s == 'b'"}],"mark":{"type":"line","color":"#8c5a19","strokeWidth":2.2,"interpolate":"monotone"},
    "encoding":{"x":{"field":"x","type":"quantitative"},"y":{"field":"y","type":"quantitative"}}},
   {"transform":[{"filter":"datum.s == 'l'"}],"mark":{"type":"text","align":"left","baseline":"middle","fontSize":15},
    "encoding":{"x":{"datum":3.5,"type":"quantitative"},"y":{"datum":0.15,"type":"quantitative"},"text":{"field":"lab"}}},
   {"transform":[{"filter":"datum.s == 'l' && datum.r == 1"}],"mark":{"type":"text","align":"left","baseline":"middle","fontSize":18,"font":"Liberation Serif","dx":-19,"text":"δ"},
    "encoding":{"x":{"datum":3.6,"type":"quantitative"},"y":{"datum":0.55,"type":"quantitative"}}},
   {"transform":[{"filter":"datum.s == 'l' && datum.r == 1"}],"mark":{"type":"text","align":"left","baseline":"middle","fontSize":11,"dx":-10,"dy":5,"text":"iso"},
    "encoding":{"x":{"datum":3.6,"type":"quantitative"},"y":{"datum":0.55,"type":"quantitative"}}},
   {"transform":[{"filter":"datum.s == 'l' && datum.r == 1"}],"mark":{"type":"text","align":"left","baseline":"middle","fontSize":16,"dx":5,"text":"(ppm)"},
    "encoding":{"x":{"datum":3.6,"type":"quantitative"},"y":{"datum":0.55,"type":"quantitative"}}}
  ]}}
]
}
